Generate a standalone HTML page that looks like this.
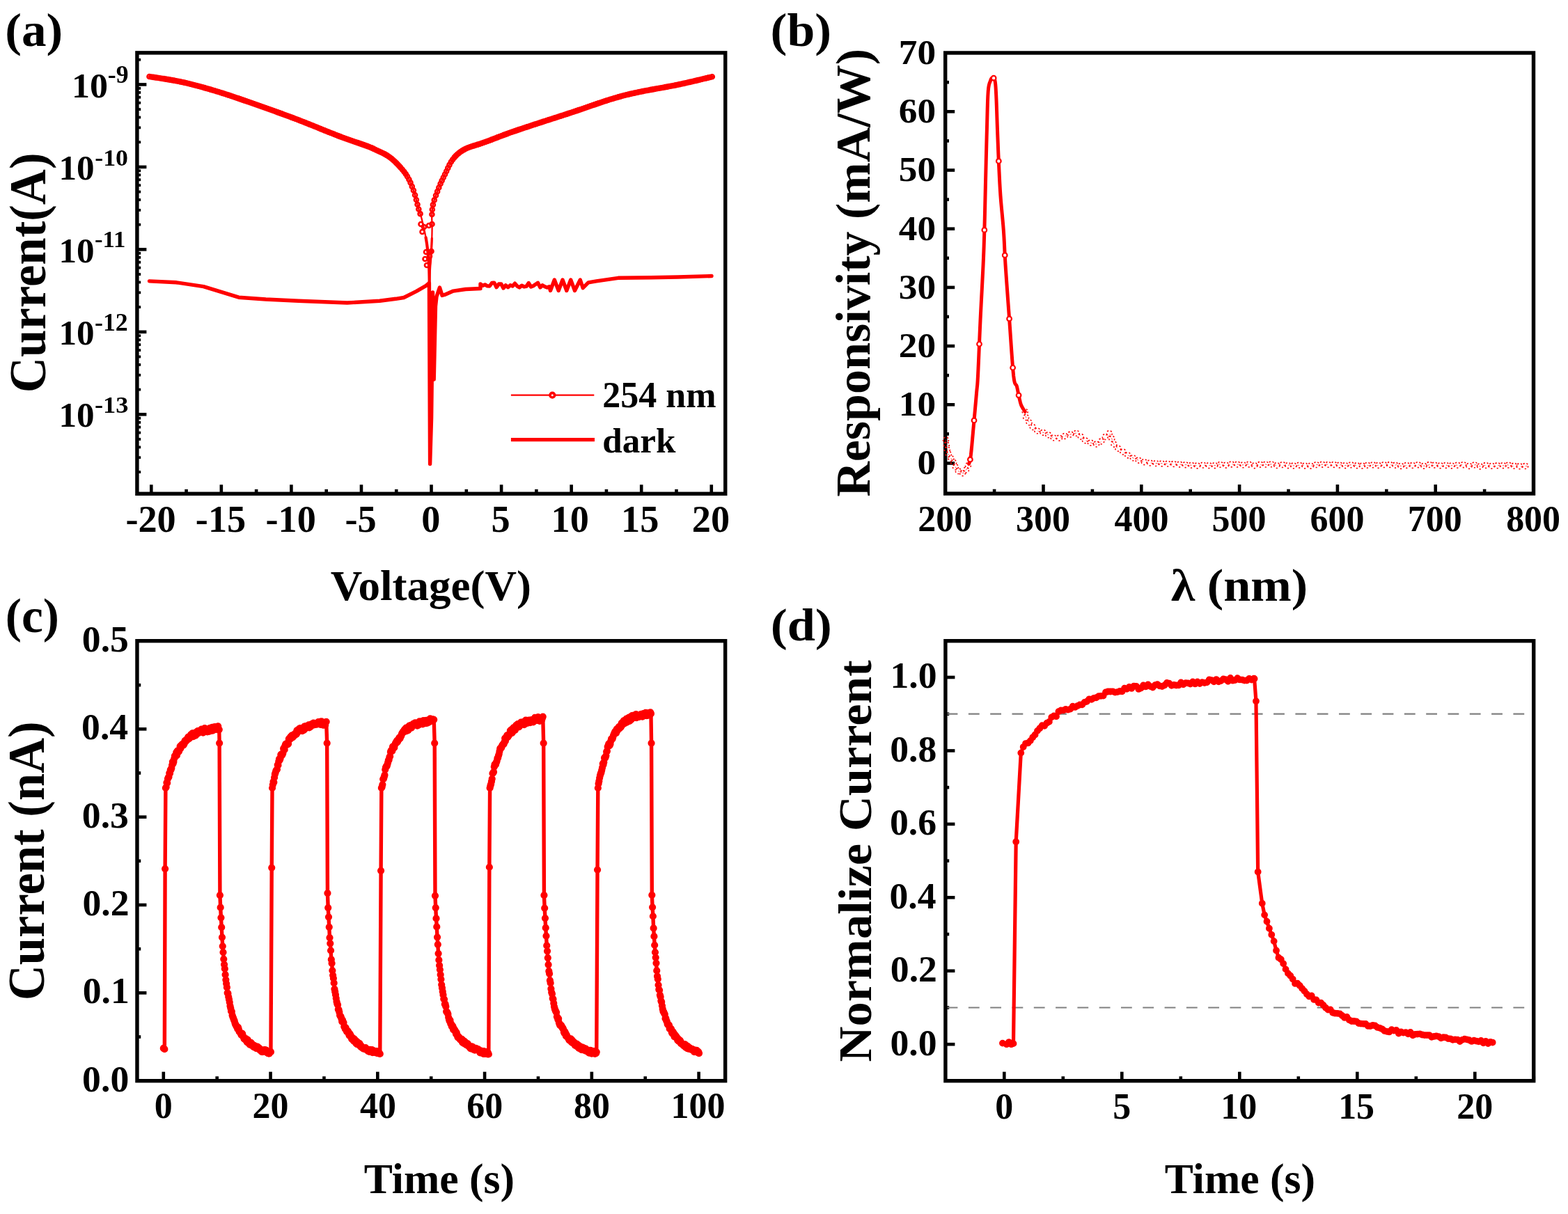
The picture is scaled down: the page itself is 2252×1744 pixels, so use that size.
<!DOCTYPE html>
<html><head><meta charset="utf-8"><title>Figure</title><style>html,body{margin:0;padding:0;background:#fff;width:2252px;height:1744px;overflow:hidden}</style></head><body>
<svg width="2252" height="1744" viewBox="0 0 2252 1744" style="display:block;font-family:'Liberation Serif','Times New Roman',serif;font-weight:bold">
<rect width="2252" height="1744" fill="#fff"/>
<line x1="217.29" y1="709.3" x2="217.29" y2="696.3" stroke="#000" stroke-width="4.6"/>
<line x1="317.85" y1="709.3" x2="317.85" y2="696.3" stroke="#000" stroke-width="4.6"/>
<line x1="418.41" y1="709.3" x2="418.41" y2="696.3" stroke="#000" stroke-width="4.6"/>
<line x1="518.97" y1="709.3" x2="518.97" y2="696.3" stroke="#000" stroke-width="4.6"/>
<line x1="619.53" y1="709.3" x2="619.53" y2="696.3" stroke="#000" stroke-width="4.6"/>
<line x1="720.09" y1="709.3" x2="720.09" y2="696.3" stroke="#000" stroke-width="4.6"/>
<line x1="820.65" y1="709.3" x2="820.65" y2="696.3" stroke="#000" stroke-width="4.6"/>
<line x1="921.21" y1="709.3" x2="921.21" y2="696.3" stroke="#000" stroke-width="4.6"/>
<line x1="1021.77" y1="709.3" x2="1021.77" y2="696.3" stroke="#000" stroke-width="4.6"/>
<line x1="267.57" y1="709.3" x2="267.57" y2="702.9" stroke="#000" stroke-width="4.6"/>
<line x1="368.13" y1="709.3" x2="368.13" y2="702.9" stroke="#000" stroke-width="4.6"/>
<line x1="468.69" y1="709.3" x2="468.69" y2="702.9" stroke="#000" stroke-width="4.6"/>
<line x1="569.25" y1="709.3" x2="569.25" y2="702.9" stroke="#000" stroke-width="4.6"/>
<line x1="669.81" y1="709.3" x2="669.81" y2="702.9" stroke="#000" stroke-width="4.6"/>
<line x1="770.37" y1="709.3" x2="770.37" y2="702.9" stroke="#000" stroke-width="4.6"/>
<line x1="870.93" y1="709.3" x2="870.93" y2="702.9" stroke="#000" stroke-width="4.6"/>
<line x1="971.49" y1="709.3" x2="971.49" y2="702.9" stroke="#000" stroke-width="4.6"/>
<line x1="196.9" y1="595.3" x2="210.4" y2="595.3" stroke="#000" stroke-width="4.6"/>
<line x1="196.9" y1="476.83" x2="210.4" y2="476.83" stroke="#000" stroke-width="4.6"/>
<line x1="196.9" y1="358.36" x2="210.4" y2="358.36" stroke="#000" stroke-width="4.6"/>
<line x1="196.9" y1="239.89" x2="210.4" y2="239.89" stroke="#000" stroke-width="4.6"/>
<line x1="196.9" y1="121.42" x2="210.4" y2="121.42" stroke="#000" stroke-width="4.6"/>
<line x1="196.9" y1="678.11" x2="202.2" y2="678.11" stroke="#000" stroke-width="3.8"/>
<line x1="196.9" y1="657.25" x2="202.2" y2="657.25" stroke="#000" stroke-width="3.8"/>
<line x1="196.9" y1="642.44" x2="202.2" y2="642.44" stroke="#000" stroke-width="3.8"/>
<line x1="196.9" y1="630.96" x2="202.2" y2="630.96" stroke="#000" stroke-width="3.8"/>
<line x1="196.9" y1="621.58" x2="202.2" y2="621.58" stroke="#000" stroke-width="3.8"/>
<line x1="196.9" y1="613.65" x2="202.2" y2="613.65" stroke="#000" stroke-width="3.8"/>
<line x1="196.9" y1="606.78" x2="202.2" y2="606.78" stroke="#000" stroke-width="3.8"/>
<line x1="196.9" y1="600.72" x2="202.2" y2="600.72" stroke="#000" stroke-width="3.8"/>
<line x1="196.9" y1="559.64" x2="202.2" y2="559.64" stroke="#000" stroke-width="3.8"/>
<line x1="196.9" y1="538.78" x2="202.2" y2="538.78" stroke="#000" stroke-width="3.8"/>
<line x1="196.9" y1="523.97" x2="202.2" y2="523.97" stroke="#000" stroke-width="3.8"/>
<line x1="196.9" y1="512.49" x2="202.2" y2="512.49" stroke="#000" stroke-width="3.8"/>
<line x1="196.9" y1="503.11" x2="202.2" y2="503.11" stroke="#000" stroke-width="3.8"/>
<line x1="196.9" y1="495.18" x2="202.2" y2="495.18" stroke="#000" stroke-width="3.8"/>
<line x1="196.9" y1="488.31" x2="202.2" y2="488.31" stroke="#000" stroke-width="3.8"/>
<line x1="196.9" y1="482.25" x2="202.2" y2="482.25" stroke="#000" stroke-width="3.8"/>
<line x1="196.9" y1="441.17" x2="202.2" y2="441.17" stroke="#000" stroke-width="3.8"/>
<line x1="196.9" y1="420.31" x2="202.2" y2="420.31" stroke="#000" stroke-width="3.8"/>
<line x1="196.9" y1="405.5" x2="202.2" y2="405.5" stroke="#000" stroke-width="3.8"/>
<line x1="196.9" y1="394.02" x2="202.2" y2="394.02" stroke="#000" stroke-width="3.8"/>
<line x1="196.9" y1="384.64" x2="202.2" y2="384.64" stroke="#000" stroke-width="3.8"/>
<line x1="196.9" y1="376.71" x2="202.2" y2="376.71" stroke="#000" stroke-width="3.8"/>
<line x1="196.9" y1="369.84" x2="202.2" y2="369.84" stroke="#000" stroke-width="3.8"/>
<line x1="196.9" y1="363.78" x2="202.2" y2="363.78" stroke="#000" stroke-width="3.8"/>
<line x1="196.9" y1="322.7" x2="202.2" y2="322.7" stroke="#000" stroke-width="3.8"/>
<line x1="196.9" y1="301.84" x2="202.2" y2="301.84" stroke="#000" stroke-width="3.8"/>
<line x1="196.9" y1="287.03" x2="202.2" y2="287.03" stroke="#000" stroke-width="3.8"/>
<line x1="196.9" y1="275.55" x2="202.2" y2="275.55" stroke="#000" stroke-width="3.8"/>
<line x1="196.9" y1="266.17" x2="202.2" y2="266.17" stroke="#000" stroke-width="3.8"/>
<line x1="196.9" y1="258.24" x2="202.2" y2="258.24" stroke="#000" stroke-width="3.8"/>
<line x1="196.9" y1="251.37" x2="202.2" y2="251.37" stroke="#000" stroke-width="3.8"/>
<line x1="196.9" y1="245.31" x2="202.2" y2="245.31" stroke="#000" stroke-width="3.8"/>
<line x1="196.9" y1="204.23" x2="202.2" y2="204.23" stroke="#000" stroke-width="3.8"/>
<line x1="196.9" y1="183.37" x2="202.2" y2="183.37" stroke="#000" stroke-width="3.8"/>
<line x1="196.9" y1="168.56" x2="202.2" y2="168.56" stroke="#000" stroke-width="3.8"/>
<line x1="196.9" y1="157.08" x2="202.2" y2="157.08" stroke="#000" stroke-width="3.8"/>
<line x1="196.9" y1="147.7" x2="202.2" y2="147.7" stroke="#000" stroke-width="3.8"/>
<line x1="196.9" y1="139.77" x2="202.2" y2="139.77" stroke="#000" stroke-width="3.8"/>
<line x1="196.9" y1="132.9" x2="202.2" y2="132.9" stroke="#000" stroke-width="3.8"/>
<line x1="196.9" y1="126.84" x2="202.2" y2="126.84" stroke="#000" stroke-width="3.8"/>
<line x1="196.9" y1="85.76" x2="202.2" y2="85.76" stroke="#000" stroke-width="3.8"/>
<rect x="196.9" y="75.85" width="844.85" height="633.45" fill="none" stroke="#000" stroke-width="5.4"/>
<text transform="translate(180.38 763.95) scale(0.5430 0.5481)" font-size="100">-20</text>
<text transform="translate(280.8 763.95) scale(0.5430 0.5522)" font-size="100">-15</text>
<text transform="translate(381.5 763.95) scale(0.5430 0.5481)" font-size="100">-10</text>
<text transform="translate(495.5 763.94) scale(0.5430 0.5564)" font-size="100">-5</text>
<text transform="translate(605.15 763.95) scale(0.5430 0.5481)" font-size="100">0</text>
<text transform="translate(705.58 763.94) scale(0.5430 0.5564)" font-size="100">5</text>
<text transform="translate(791.61 763.95) scale(0.5430 0.5481)" font-size="100">10</text>
<text transform="translate(892.04 763.95) scale(0.5430 0.5522)" font-size="100">15</text>
<text transform="translate(993.82 763.95) scale(0.5430 0.5481)" font-size="100">20</text>
<text transform="translate(84.41 613.49) scale(0.5114 0.5126)" font-size="100">10</text>
<text transform="translate(135.92 592.56) scale(0.3644 0.3433)" font-size="100">-13</text>
<text transform="translate(84.41 495.02) scale(0.5114 0.5126)" font-size="100">10</text>
<text transform="translate(135.95 475.3) scale(0.3586 0.3500)" font-size="100">-12</text>
<text transform="translate(84.41 376.55) scale(0.5114 0.5126)" font-size="100">10</text>
<text transform="translate(135.98 355.4) scale(0.3473 0.3318)" font-size="100">-11</text>
<text transform="translate(84.41 258.08) scale(0.5114 0.5126)" font-size="100">10</text>
<text transform="translate(136.24 238.25) scale(0.3587 0.3467)" font-size="100">-10</text>
<text transform="translate(102.94 139.61) scale(0.5205 0.5126)" font-size="100">10</text>
<text transform="translate(154.75 118.55) scale(0.3569 0.3507)" font-size="100">-9</text>
<text transform="translate(474.77 862.08) scale(0.6305 0.6119)" font-size="100">Voltage(V)</text>
<text transform="translate(65.46 564.24) rotate(-90) scale(0.7083 0.7403)" font-size="100">Current(A)</text>
<text transform="translate(7.2 65.93) scale(0.7111 0.6868)" font-size="100">(a)</text>
<line x1="733.9" y1="567.7" x2="853.3" y2="567.7" stroke="#f00" stroke-width="2.3"/>
<circle cx="793.3" cy="567.7" r="3.3" fill="#fff" stroke="#f00" stroke-width="3.6"/>
<line x1="733.9" y1="631.6" x2="854" y2="631.6" stroke="#f00" stroke-width="5.4"/>
<text transform="translate(865.22 585.16) scale(0.5208 0.5358)" font-size="100">254 nm</text>
<text transform="translate(865.25 649.6) scale(0.5122 0.4979)" font-size="100">dark</text>
<path d="M214.5 403.9 L253.4 405.8 L292.3 411.7 L342.9 427.2 L381.8 430 L428.5 432.3 L498.6 435 L545.3 432.3 L568.4 429.3 L580 427.5 L597.7 418.6 L612 410.4 L616.4 406.6 L617.6 666.5 L619.6 600 L620.8 500 L621.5 420 L623.2 545 L625.5 440 L627 426.1 L631.5 413 L635 424.4 L638.6 423.4 L651 418.1 L668.7 415.5 L690 414.5 L690 407.9 L693.3 410.35 L696.6 408.96 L699.9 410.83 L703.2 411.01 L706.5 406.52 L709.8 406.11 L713.1 412.7 L716.4 408.07 L719.7 407.87 L723 413.97 L726.3 409.76 L729.6 412.69 L732.9 409.81 L736.2 411.11 L739.5 407.2 L742.8 411.08 L746.1 412.94 L749.4 410.19 L752.7 411.93 L756 411.37 L759.3 406.51 L762.6 412.07 L765.9 410.73 L769.2 408.41 L772.5 406.25 L775.8 412.92 L779.1 409.78 L782.4 411.75 L785.7 413.03 L789 411.71 L790.5 417.5 L796.3 402 L802.2 417.5 L808 402 L813.8 417.5 L819.7 402 L825.5 417.5 L833.3 402 L837.2 413.6 L845 405.8 L856.6 403.9 L887.8 399.3 L934.5 398.8 L973.4 398 L1022 396.5" fill="none" stroke="#f00" stroke-width="5.4" stroke-linejoin="round" stroke-linecap="round" />
<path d="M214.5 110 L218.06 110.56 L222.75 111.27 L228.34 112.1 L234.58 113.05 L241.2 114.11 L247.98 115.26 L254.66 116.49 L261 117.8 L267.09 119.18 L273.22 120.65 L279.41 122.21 L285.67 123.86 L292.02 125.61 L298.48 127.44 L305.07 129.37 L311.8 131.4 L318.72 133.55 L325.82 135.84 L333.07 138.24 L340.42 140.72 L347.83 143.26 L355.26 145.84 L362.66 148.43 L370 151 L377.3 153.57 L384.6 156.16 L391.92 158.78 L399.23 161.42 L406.55 164.09 L413.87 166.79 L421.19 169.53 L428.5 172.3 L435.95 175.18 L443.59 178.21 L451.3 181.31 L458.98 184.43 L466.51 187.48 L473.76 190.4 L480.63 193.13 L487 195.6 L492.96 197.82 L498.66 199.88 L504.07 201.77 L509.17 203.53 L513.92 205.14 L518.29 206.63 L522.26 208.02 L525.8 209.3 L528.7 210.39 L530.91 211.23 L532.61 211.9 L533.99 212.48 L535.24 213.04 L536.53 213.67 L538.05 214.43 L540 215.4 L542.32 216.51 L544.83 217.65 L547.47 218.86 L550.21 220.16 L553 221.6 L555.81 223.19 L558.59 224.98 L561.3 227 L564.03 229.3 L566.86 231.86 L569.72 234.64 L572.57 237.57 L575.34 240.6 L577.97 243.67 L580.41 246.72 L582.6 249.7 L584.53 252.64 L586.25 255.59 L587.79 258.57 L589.19 261.57 L590.48 264.59 L591.69 267.64 L592.85 270.71 L594 273.8 L595.11 277.03 L596.14 280.45 L597.1 283.95 L597.99 287.44 L598.82 290.83 L599.6 294.02 L600.32 296.91 L601 299.4 L601.61 301.45 L602.14 303.12 L602.61 304.5 L603.03 305.67 L603.41 306.73 L603.78 307.74 L604.13 308.81 L604.5 310 L604.86 311.26 L605.18 312.47 L605.49 313.66 L605.78 314.85 L606.07 316.06 L606.36 317.3 L606.67 318.61 L607 320 L607.35 321.45 L607.71 322.95 L608.09 324.48 L608.47 326.06 L608.85 327.7 L609.24 329.4 L609.62 331.16 L610 333 L610.38 334.93 L610.77 336.95 L611.17 339.04 L611.56 341.19 L611.95 343.38 L612.32 345.59 L612.67 347.8 L613 350 L613.3 352.21 L613.59 354.45 L613.86 356.72 L614.11 359 L614.35 361.28 L614.58 363.55 L614.8 365.79 L615 368 L615.19 370.15 L615.37 372.23 L615.54 374.28 L615.69 376.32 L615.84 378.38 L615.97 380.5 L616.09 382.7 L616.2 385 L616.3 387.57 L616.39 390.44 L616.46 393.47 L616.53 396.51 L616.58 399.42 L616.63 402.05 L616.67 404.26 L616.7 405.9 L616.76 404.28 L616.85 402.12 L616.94 399.55 L617.05 396.7 L617.17 393.69 L617.3 390.65 L617.45 387.71 L617.6 385 L617.77 382.46 L617.96 379.94 L618.18 377.43 L618.39 374.94 L618.61 372.46 L618.83 369.98 L619.02 367.49 L619.2 365 L619.36 362.5 L619.51 360 L619.65 357.5 L619.78 355 L619.9 352.5 L620.01 350 L620.11 347.5 L620.2 345 L620.28 342.47 L620.36 339.88 L620.42 337.28 L620.48 334.69 L620.53 332.13 L620.56 329.65 L620.59 327.26 L620.6 325 L620.58 322.9 L620.52 320.96 L620.44 319.13 L620.35 317.36 L620.27 315.6 L620.23 313.82 L620.23 311.97 L620.3 310 L620.39 307.96 L620.48 305.92 L620.59 303.85 L620.74 301.72 L620.97 299.53 L621.28 297.25 L621.72 294.84 L622.3 292.3 L623.06 289.55 L623.99 286.57 L625.05 283.45 L626.19 280.24 L627.39 277.04 L628.6 273.89 L629.78 270.89 L630.9 268.1 L631.95 265.54 L632.97 263.16 L633.97 260.9 L634.98 258.72 L636.01 256.56 L637.08 254.37 L638.2 252.1 L639.4 249.7 L640.64 247.13 L641.89 244.41 L643.18 241.61 L644.51 238.79 L645.91 235.99 L647.4 233.29 L648.99 230.74 L650.7 228.4 L652.48 226.26 L654.3 224.25 L656.19 222.37 L658.18 220.59 L660.3 218.9 L662.59 217.28 L665.08 215.72 L667.8 214.2 L670.7 212.8 L673.74 211.57 L676.95 210.45 L680.33 209.38 L683.93 208.29 L687.75 207.12 L691.84 205.81 L696.2 204.3 L700.71 202.63 L705.27 200.89 L710.01 199.06 L715.02 197.12 L720.42 195.06 L726.31 192.86 L732.8 190.52 L740 188 L748.09 185.26 L757.04 182.29 L766.65 179.14 L776.73 175.86 L787.07 172.52 L797.47 169.16 L807.75 165.83 L817.7 162.6 L827.42 159.37 L837.14 156.04 L846.86 152.68 L856.59 149.34 L866.31 146.07 L876.04 142.94 L885.77 140 L895.5 137.3 L905.42 134.86 L915.61 132.63 L925.9 130.57 L936.15 128.65 L946.18 126.84 L955.84 125.1 L964.97 123.4 L973.4 121.7 L981.38 119.97 L989.16 118.23 L996.6 116.51 L1003.57 114.88 L1009.93 113.36 L1015.55 112.01 L1020.28 110.88 L1024 110" fill="none" stroke="#f00" stroke-width="2.3" stroke-linejoin="round" stroke-linecap="round" />
<path d="M611.56 341.19 L611.95 343.38 L612.32 345.59 L612.67 347.8 L613 350 L613.3 352.21 L613.59 354.45 L613.86 356.72 L614.11 359 L614.35 361.28 L614.58 363.55 L614.8 365.79 L615 368 L615.19 370.15 L615.37 372.23 L615.54 374.28 L615.69 376.32 L615.84 378.38 L615.97 380.5 L616.09 382.7 L616.2 385 L616.3 387.57 L616.39 390.44 L616.46 393.47 L616.53 396.51 L616.58 399.42 L616.63 402.05 L616.67 404.26 L616.7 405.9" fill="none" stroke="#f00" stroke-width="4.2" stroke-linejoin="round" stroke-linecap="round" />
<path d="M616.7 405.9 L616.76 404.28 L616.85 402.12 L616.94 399.55 L617.05 396.7 L617.17 393.69 L617.3 390.65 L617.45 387.71 L617.6 385 L617.77 382.46 L617.96 379.94 L618.18 377.43 L618.39 374.94 L618.61 372.46 L618.83 369.98 L619.02 367.49 L619.2 365 L619.36 362.5 L619.51 360 L619.65 357.5 L619.78 355 L619.9 352.5 L620.01 350 L620.11 347.5 L620.2 345 L620.28 342.47" fill="none" stroke="#f00" stroke-width="3.2" stroke-linejoin="round" stroke-linecap="round" />
<g fill="none" stroke="#f00" stroke-width="2.6"><circle cx="214.5" cy="110" r="3.0"/><circle cx="217.46" cy="110.47" r="3.0"/><circle cx="220.43" cy="110.92" r="3.0"/><circle cx="223.4" cy="111.36" r="3.0"/><circle cx="226.36" cy="111.8" r="3.0"/><circle cx="229.33" cy="112.25" r="3.0"/><circle cx="232.3" cy="112.7" r="3.0"/><circle cx="235.26" cy="113.16" r="3.0"/><circle cx="238.22" cy="113.63" r="3.0"/><circle cx="241.19" cy="114.1" r="3.0"/><circle cx="244.14" cy="114.61" r="3.0"/><circle cx="247.1" cy="115.11" r="3.0"/><circle cx="250.05" cy="115.64" r="3.0"/><circle cx="253" cy="116.19" r="3.0"/><circle cx="255.95" cy="116.76" r="3.0"/><circle cx="258.89" cy="117.36" r="3.0"/><circle cx="261.82" cy="117.99" r="3.0"/><circle cx="264.75" cy="118.65" r="3.0"/><circle cx="267.67" cy="119.32" r="3.0"/><circle cx="270.59" cy="120.02" r="3.0"/><circle cx="273.51" cy="120.72" r="3.0"/><circle cx="276.41" cy="121.46" r="3.0"/><circle cx="279.32" cy="122.19" r="3.0"/><circle cx="282.22" cy="122.95" r="3.0"/><circle cx="285.12" cy="123.72" r="3.0"/><circle cx="288.02" cy="124.51" r="3.0"/><circle cx="290.91" cy="125.3" r="3.0"/><circle cx="293.8" cy="126.11" r="3.0"/><circle cx="296.69" cy="126.93" r="3.0"/><circle cx="299.57" cy="127.76" r="3.0"/><circle cx="302.45" cy="128.61" r="3.0"/><circle cx="305.33" cy="129.45" r="3.0"/><circle cx="308.2" cy="130.32" r="3.0"/><circle cx="311.07" cy="131.18" r="3.0"/><circle cx="313.94" cy="132.06" r="3.0"/><circle cx="316.8" cy="132.96" r="3.0"/><circle cx="319.66" cy="133.86" r="3.0"/><circle cx="322.52" cy="134.78" r="3.0"/><circle cx="325.38" cy="135.69" r="3.0"/><circle cx="328.23" cy="136.63" r="3.0"/><circle cx="331.07" cy="137.58" r="3.0"/><circle cx="333.92" cy="138.52" r="3.0"/><circle cx="336.76" cy="139.48" r="3.0"/><circle cx="339.6" cy="140.44" r="3.0"/><circle cx="342.44" cy="141.41" r="3.0"/><circle cx="345.28" cy="142.39" r="3.0"/><circle cx="348.12" cy="143.36" r="3.0"/><circle cx="350.95" cy="144.35" r="3.0"/><circle cx="353.79" cy="145.33" r="3.0"/><circle cx="356.62" cy="146.32" r="3.0"/><circle cx="359.45" cy="147.31" r="3.0"/><circle cx="362.28" cy="148.3" r="3.0"/><circle cx="365.11" cy="149.29" r="3.0"/><circle cx="367.95" cy="150.28" r="3.0"/><circle cx="370.78" cy="151.27" r="3.0"/><circle cx="373.61" cy="152.27" r="3.0"/><circle cx="376.44" cy="153.26" r="3.0"/><circle cx="379.27" cy="154.27" r="3.0"/><circle cx="382.09" cy="155.27" r="3.0"/><circle cx="384.92" cy="156.27" r="3.0"/><circle cx="387.74" cy="157.28" r="3.0"/><circle cx="390.57" cy="158.29" r="3.0"/><circle cx="393.39" cy="159.31" r="3.0"/><circle cx="396.21" cy="160.33" r="3.0"/><circle cx="399.03" cy="161.35" r="3.0"/><circle cx="401.85" cy="162.38" r="3.0"/><circle cx="404.67" cy="163.41" r="3.0"/><circle cx="407.49" cy="164.44" r="3.0"/><circle cx="410.3" cy="165.48" r="3.0"/><circle cx="413.12" cy="166.52" r="3.0"/><circle cx="415.93" cy="167.56" r="3.0"/><circle cx="418.74" cy="168.61" r="3.0"/><circle cx="421.55" cy="169.67" r="3.0"/><circle cx="424.35" cy="170.73" r="3.0"/><circle cx="427.16" cy="171.79" r="3.0"/><circle cx="429.96" cy="172.86" r="3.0"/><circle cx="432.76" cy="173.95" r="3.0"/><circle cx="435.55" cy="175.03" r="3.0"/><circle cx="438.34" cy="176.13" r="3.0"/><circle cx="441.13" cy="177.24" r="3.0"/><circle cx="443.92" cy="178.34" r="3.0"/><circle cx="446.71" cy="179.46" r="3.0"/><circle cx="449.49" cy="180.58" r="3.0"/><circle cx="452.27" cy="181.71" r="3.0"/><circle cx="455.05" cy="182.83" r="3.0"/><circle cx="457.83" cy="183.96" r="3.0"/><circle cx="460.61" cy="185.09" r="3.0"/><circle cx="463.39" cy="186.21" r="3.0"/><circle cx="466.17" cy="187.34" r="3.0"/><circle cx="468.95" cy="188.46" r="3.0"/><circle cx="471.74" cy="189.59" r="3.0"/><circle cx="474.52" cy="190.71" r="3.0"/><circle cx="477.31" cy="191.81" r="3.0"/><circle cx="480.1" cy="192.92" r="3.0"/><circle cx="482.89" cy="194.01" r="3.0"/><circle cx="485.69" cy="195.09" r="3.0"/><circle cx="488.49" cy="196.16" r="3.0"/><circle cx="491.3" cy="197.21" r="3.0"/><circle cx="494.12" cy="198.24" r="3.0"/><circle cx="496.94" cy="199.26" r="3.0"/><circle cx="499.77" cy="200.27" r="3.0"/><circle cx="502.6" cy="201.26" r="3.0"/><circle cx="505.43" cy="202.24" r="3.0"/><circle cx="508.27" cy="203.22" r="3.0"/><circle cx="511.11" cy="204.19" r="3.0"/><circle cx="513.95" cy="205.15" r="3.0"/><circle cx="516.79" cy="206.12" r="3.0"/><circle cx="519.63" cy="207.1" r="3.0"/><circle cx="522.46" cy="208.09" r="3.0"/><circle cx="525.28" cy="209.11" r="3.0"/><circle cx="528.09" cy="210.16" r="3.0"/><circle cx="530.89" cy="211.22" r="3.0"/><circle cx="533.67" cy="212.35" r="3.0"/><circle cx="536.4" cy="213.6" r="3.0"/><circle cx="539.08" cy="214.94" r="3.0"/><circle cx="541.78" cy="216.25" r="3.0"/><circle cx="544.51" cy="217.51" r="3.0"/><circle cx="547.24" cy="218.75" r="3.0"/><circle cx="549.95" cy="220.04" r="3.0"/><circle cx="552.62" cy="221.4" r="3.0"/><circle cx="555.24" cy="222.87" r="3.0"/><circle cx="557.78" cy="224.46" r="3.0"/><circle cx="560.22" cy="226.2" r="3.0"/><circle cx="562.57" cy="228.07" r="3.0"/><circle cx="564.84" cy="230.03" r="3.0"/><circle cx="567.05" cy="232.05" r="3.0"/><circle cx="569.21" cy="234.14" r="3.0"/><circle cx="571.31" cy="236.27" r="3.0"/><circle cx="573.38" cy="238.45" r="3.0"/><circle cx="575.4" cy="240.67" r="3.0"/><circle cx="578" cy="243.7" r="3.0"/><circle cx="580.49" cy="246.83" r="3.0"/><circle cx="582.84" cy="250.07" r="3.0"/><circle cx="585" cy="253.44" r="3.0"/><circle cx="587.4" cy="257.82" r="3.0"/><circle cx="589.52" cy="262.35" r="3.0"/><circle cx="591.79" cy="267.9" r="3.0"/><circle cx="593.9" cy="273.52" r="3.0"/><circle cx="596.06" cy="280.17" r="3.0"/><circle cx="597.86" cy="286.94" r="3.0"/><circle cx="599.53" cy="293.74" r="3.0"/><circle cx="601.33" cy="300.5" r="3.0"/><circle cx="603.56" cy="307.13" r="3.0"/><circle cx="620.39" cy="308.03" r="3.0"/><circle cx="620.81" cy="301.04" r="3.0"/><circle cx="621.88" cy="294.13" r="3.0"/><circle cx="623.74" cy="287.38" r="3.0"/><circle cx="626.01" cy="280.76" r="3.0"/><circle cx="628.12" cy="275.14" r="3.0"/><circle cx="630.32" cy="269.56" r="3.0"/><circle cx="632.6" cy="264.01" r="3.0"/><circle cx="634.64" cy="259.45" r="3.0"/><circle cx="636.8" cy="254.94" r="3.0"/><circle cx="639.02" cy="250.46" r="3.0"/><circle cx="641.18" cy="245.95" r="3.0"/><circle cx="643.27" cy="241.41" r="3.0"/><circle cx="645.46" cy="236.91" r="3.0"/><circle cx="647.87" cy="232.54" r="3.0"/><circle cx="650.1" cy="229.22" r="3.0"/><circle cx="652.62" cy="226.11" r="3.0"/><circle cx="654.65" cy="223.9" r="3.0"/><circle cx="656.81" cy="221.82" r="3.0"/><circle cx="659.08" cy="219.87" r="3.0"/><circle cx="661.48" cy="218.07" r="3.0"/><circle cx="663.98" cy="216.41" r="3.0"/><circle cx="666.57" cy="214.89" r="3.0"/><circle cx="669.23" cy="213.51" r="3.0"/><circle cx="671.97" cy="212.29" r="3.0"/><circle cx="674.77" cy="211.21" r="3.0"/><circle cx="677.61" cy="210.24" r="3.0"/><circle cx="680.47" cy="209.34" r="3.0"/><circle cx="683.34" cy="208.47" r="3.0"/><circle cx="686.21" cy="207.6" r="3.0"/><circle cx="689.07" cy="206.7" r="3.0"/><circle cx="691.93" cy="205.78" r="3.0"/><circle cx="694.76" cy="204.8" r="3.0"/><circle cx="697.59" cy="203.79" r="3.0"/><circle cx="700.4" cy="202.74" r="3.0"/><circle cx="703.2" cy="201.68" r="3.0"/><circle cx="706" cy="200.61" r="3.0"/><circle cx="708.8" cy="199.52" r="3.0"/><circle cx="711.6" cy="198.44" r="3.0"/><circle cx="714.4" cy="197.36" r="3.0"/><circle cx="717.2" cy="196.29" r="3.0"/><circle cx="720" cy="195.22" r="3.0"/><circle cx="722.81" cy="194.17" r="3.0"/><circle cx="725.62" cy="193.12" r="3.0"/><circle cx="728.44" cy="192.09" r="3.0"/><circle cx="731.26" cy="191.07" r="3.0"/><circle cx="734.09" cy="190.07" r="3.0"/><circle cx="736.92" cy="189.08" r="3.0"/><circle cx="739.75" cy="188.09" r="3.0"/><circle cx="742.59" cy="187.12" r="3.0"/><circle cx="745.44" cy="186.16" r="3.0"/><circle cx="748.28" cy="185.2" r="3.0"/><circle cx="751.12" cy="184.25" r="3.0"/><circle cx="753.97" cy="183.31" r="3.0"/><circle cx="756.82" cy="182.36" r="3.0"/><circle cx="759.67" cy="181.43" r="3.0"/><circle cx="762.52" cy="180.49" r="3.0"/><circle cx="765.37" cy="179.56" r="3.0"/><circle cx="768.22" cy="178.63" r="3.0"/><circle cx="771.08" cy="177.7" r="3.0"/><circle cx="773.93" cy="176.77" r="3.0"/><circle cx="776.78" cy="175.84" r="3.0"/><circle cx="779.64" cy="174.92" r="3.0"/><circle cx="782.49" cy="174" r="3.0"/><circle cx="785.35" cy="173.07" r="3.0"/><circle cx="788.2" cy="172.15" r="3.0"/><circle cx="791.05" cy="171.23" r="3.0"/><circle cx="793.91" cy="170.31" r="3.0"/><circle cx="796.76" cy="169.39" r="3.0"/><circle cx="799.62" cy="168.46" r="3.0"/><circle cx="802.47" cy="167.54" r="3.0"/><circle cx="805.33" cy="166.62" r="3.0"/><circle cx="808.18" cy="165.69" r="3.0"/><circle cx="811.04" cy="164.77" r="3.0"/><circle cx="813.89" cy="163.84" r="3.0"/><circle cx="816.74" cy="162.91" r="3.0"/><circle cx="819.59" cy="161.97" r="3.0"/><circle cx="822.44" cy="161.02" r="3.0"/><circle cx="825.28" cy="160.08" r="3.0"/><circle cx="828.13" cy="159.12" r="3.0"/><circle cx="830.97" cy="158.15" r="3.0"/><circle cx="833.81" cy="157.18" r="3.0"/><circle cx="836.64" cy="156.21" r="3.0"/><circle cx="839.48" cy="155.23" r="3.0"/><circle cx="842.31" cy="154.25" r="3.0"/><circle cx="845.15" cy="153.27" r="3.0"/><circle cx="847.99" cy="152.29" r="3.0"/><circle cx="850.82" cy="151.32" r="3.0"/><circle cx="853.66" cy="150.34" r="3.0"/><circle cx="856.5" cy="149.37" r="3.0"/><circle cx="859.34" cy="148.41" r="3.0"/><circle cx="862.19" cy="147.46" r="3.0"/><circle cx="865.03" cy="146.5" r="3.0"/><circle cx="867.88" cy="145.57" r="3.0"/><circle cx="870.74" cy="144.65" r="3.0"/><circle cx="873.59" cy="143.73" r="3.0"/><circle cx="876.45" cy="142.82" r="3.0"/><circle cx="879.32" cy="141.95" r="3.0"/><circle cx="882.19" cy="141.08" r="3.0"/><circle cx="885.06" cy="140.21" r="3.0"/><circle cx="887.95" cy="139.39" r="3.0"/><circle cx="890.84" cy="138.59" r="3.0"/><circle cx="893.73" cy="137.79" r="3.0"/><circle cx="896.63" cy="137.02" r="3.0"/><circle cx="899.54" cy="136.3" r="3.0"/><circle cx="902.46" cy="135.59" r="3.0"/><circle cx="905.37" cy="134.87" r="3.0"/><circle cx="908.3" cy="134.23" r="3.0"/><circle cx="911.23" cy="133.59" r="3.0"/><circle cx="914.16" cy="132.94" r="3.0"/><circle cx="917.1" cy="132.33" r="3.0"/><circle cx="920.04" cy="131.74" r="3.0"/><circle cx="922.98" cy="131.15" r="3.0"/><circle cx="925.92" cy="130.56" r="3.0"/><circle cx="928.87" cy="130.01" r="3.0"/><circle cx="931.82" cy="129.46" r="3.0"/><circle cx="934.77" cy="128.91" r="3.0"/><circle cx="937.72" cy="128.37" r="3.0"/><circle cx="940.67" cy="127.83" r="3.0"/><circle cx="943.62" cy="127.3" r="3.0"/><circle cx="946.58" cy="126.77" r="3.0"/><circle cx="949.53" cy="126.24" r="3.0"/><circle cx="952.48" cy="125.7" r="3.0"/><circle cx="955.43" cy="125.17" r="3.0"/><circle cx="958.38" cy="124.62" r="3.0"/><circle cx="961.33" cy="124.07" r="3.0"/><circle cx="964.28" cy="123.52" r="3.0"/><circle cx="967.23" cy="122.94" r="3.0"/><circle cx="970.17" cy="122.35" r="3.0"/><circle cx="973.11" cy="121.76" r="3.0"/><circle cx="976.04" cy="121.13" r="3.0"/><circle cx="978.97" cy="120.49" r="3.0"/><circle cx="981.9" cy="119.85" r="3.0"/><circle cx="984.83" cy="119.2" r="3.0"/><circle cx="987.76" cy="118.54" r="3.0"/><circle cx="990.68" cy="117.87" r="3.0"/><circle cx="993.61" cy="117.2" r="3.0"/><circle cx="996.53" cy="116.53" r="3.0"/><circle cx="999.45" cy="115.84" r="3.0"/><circle cx="1002.37" cy="115.16" r="3.0"/><circle cx="1005.29" cy="114.46" r="3.0"/><circle cx="1008.21" cy="113.77" r="3.0"/><circle cx="1011.13" cy="113.07" r="3.0"/><circle cx="1014.04" cy="112.37" r="3.0"/><circle cx="1016.96" cy="111.67" r="3.0"/><circle cx="1019.88" cy="110.97" r="3.0"/><circle cx="1022.8" cy="110.28" r="3.0"/><circle cx="604.5" cy="322" r="3.0"/><circle cx="609" cy="326" r="3.0"/><circle cx="616" cy="324" r="3.0"/><circle cx="620.5" cy="322" r="3.0"/><circle cx="606.5" cy="333" r="3.0"/><circle cx="612" cy="362" r="3.0"/><circle cx="619.5" cy="361" r="3.0"/><circle cx="617" cy="368" r="3.0"/><circle cx="610.5" cy="372" r="3.0"/><circle cx="613" cy="381" r="3.0"/></g>
<line x1="1498.5" y1="709.1" x2="1498.5" y2="696.1" stroke="#000" stroke-width="4.6"/>
<line x1="1639.3" y1="709.1" x2="1639.3" y2="696.1" stroke="#000" stroke-width="4.6"/>
<line x1="1780.1" y1="709.1" x2="1780.1" y2="696.1" stroke="#000" stroke-width="4.6"/>
<line x1="1920.9" y1="709.1" x2="1920.9" y2="696.1" stroke="#000" stroke-width="4.6"/>
<line x1="2061.7" y1="709.1" x2="2061.7" y2="696.1" stroke="#000" stroke-width="4.6"/>
<line x1="1428.1" y1="709.1" x2="1428.1" y2="702.7" stroke="#000" stroke-width="4.6"/>
<line x1="1568.9" y1="709.1" x2="1568.9" y2="702.7" stroke="#000" stroke-width="4.6"/>
<line x1="1709.7" y1="709.1" x2="1709.7" y2="702.7" stroke="#000" stroke-width="4.6"/>
<line x1="1850.5" y1="709.1" x2="1850.5" y2="702.7" stroke="#000" stroke-width="4.6"/>
<line x1="1991.3" y1="709.1" x2="1991.3" y2="702.7" stroke="#000" stroke-width="4.6"/>
<line x1="2132.1" y1="709.1" x2="2132.1" y2="702.7" stroke="#000" stroke-width="4.6"/>
<line x1="1357.7" y1="665.5" x2="1371.2" y2="665.5" stroke="#000" stroke-width="4.6"/>
<line x1="1357.7" y1="581.3" x2="1371.2" y2="581.3" stroke="#000" stroke-width="4.6"/>
<line x1="1357.7" y1="497.1" x2="1371.2" y2="497.1" stroke="#000" stroke-width="4.6"/>
<line x1="1357.7" y1="412.9" x2="1371.2" y2="412.9" stroke="#000" stroke-width="4.6"/>
<line x1="1357.7" y1="328.7" x2="1371.2" y2="328.7" stroke="#000" stroke-width="4.6"/>
<line x1="1357.7" y1="244.5" x2="1371.2" y2="244.5" stroke="#000" stroke-width="4.6"/>
<line x1="1357.7" y1="160.3" x2="1371.2" y2="160.3" stroke="#000" stroke-width="4.6"/>
<line x1="1357.7" y1="623.4" x2="1363" y2="623.4" stroke="#000" stroke-width="4.6"/>
<line x1="1357.7" y1="539.2" x2="1363" y2="539.2" stroke="#000" stroke-width="4.6"/>
<line x1="1357.7" y1="455" x2="1363" y2="455" stroke="#000" stroke-width="4.6"/>
<line x1="1357.7" y1="370.8" x2="1363" y2="370.8" stroke="#000" stroke-width="4.6"/>
<line x1="1357.7" y1="286.6" x2="1363" y2="286.6" stroke="#000" stroke-width="4.6"/>
<line x1="1357.7" y1="202.4" x2="1363" y2="202.4" stroke="#000" stroke-width="4.6"/>
<line x1="1357.7" y1="118.2" x2="1363" y2="118.2" stroke="#000" stroke-width="4.6"/>
<rect x="1357.7" y="75.95" width="844.8" height="633.15" fill="none" stroke="#000" stroke-width="5.4"/>
<text transform="translate(1318.2 763.36) scale(0.5200 0.5378)" font-size="100">200</text>
<text transform="translate(1459 763.36) scale(0.5200 0.5378)" font-size="100">300</text>
<text transform="translate(1600.45 763.36) scale(0.5200 0.5378)" font-size="100">400</text>
<text transform="translate(1740.6 763.36) scale(0.5200 0.5378)" font-size="100">500</text>
<text transform="translate(1881.53 763.36) scale(0.5200 0.5378)" font-size="100">600</text>
<text transform="translate(2021.81 763.36) scale(0.5200 0.5378)" font-size="100">700</text>
<text transform="translate(2163.13 763.36) scale(0.5200 0.5378)" font-size="100">800</text>
<text transform="translate(1317.48 681.38) scale(0.5330 0.5156)" font-size="100">0</text>
<text transform="translate(1290.83 597.18) scale(0.5330 0.5156)" font-size="100">10</text>
<text transform="translate(1290.83 512.98) scale(0.5330 0.5156)" font-size="100">20</text>
<text transform="translate(1290.83 428.78) scale(0.5330 0.5156)" font-size="100">30</text>
<text transform="translate(1290.83 344.58) scale(0.5330 0.5156)" font-size="100">40</text>
<text transform="translate(1290.83 260.38) scale(0.5330 0.5156)" font-size="100">50</text>
<text transform="translate(1290.83 176.18) scale(0.5330 0.5156)" font-size="100">60</text>
<text transform="translate(1290.83 91.98) scale(0.5330 0.5156)" font-size="100">70</text>
<text transform="translate(1681.8 862.8) scale(0.7027 0.6511)" font-size="100">λ (nm)</text>
<text transform="translate(1248.7 713.85) rotate(-90) scale(0.7005 0.7038)" font-size="100">Responsivity (mA/W)</text>
<text transform="translate(1106.58 65.93) scale(0.7163 0.6868)" font-size="100">(b)</text>
<path d="M1391.6 666.4 L1391.88 665.43 L1392.26 664.44 L1392.71 663.09 L1393.23 661.06 L1393.8 658.01 L1394.4 653.6 L1395.07 647.37 L1395.84 639.48 L1396.65 630.57 L1397.47 621.28 L1398.27 612.24 L1399 604.1 L1399.68 596.66 L1400.34 589.37 L1400.97 582.34 L1401.56 575.67 L1402.11 569.46 L1402.6 563.8 L1403 559.53 L1403.3 556.73 L1403.56 554.38 L1403.81 551.49 L1404.11 547.03 L1404.5 540 L1404.98 529.92 L1405.53 517.5 L1406.11 503.52 L1406.73 488.76 L1407.36 474 L1408 460 L1408.68 446.31 L1409.41 432.21 L1410.16 418.11 L1410.88 404.41 L1411.54 391.5 L1412.1 379.8 L1412.53 369.79 L1412.87 361.26 L1413.15 353.52 L1413.39 345.92 L1413.63 337.77 L1413.9 328.4 L1414.19 317.7 L1414.47 306.19 L1414.75 294.12 L1415.03 281.79 L1415.31 269.46 L1415.6 257.4 L1415.89 245.38 L1416.19 233.14 L1416.49 220.9 L1416.8 208.88 L1417.1 197.31 L1417.4 186.4 L1417.68 175.85 L1417.94 165.43 L1418.19 155.46 L1418.47 146.24 L1418.8 138.12 L1419.2 131.4 L1419.69 126.34 L1420.27 122.74 L1420.89 120.23 L1421.53 118.43 L1422.14 116.98 L1422.7 115.5 L1423.19 114.12 L1423.63 113.16 L1424.05 112.54 L1424.47 112.19 L1424.91 112.03 L1425.4 112 L1425.96 111.97 L1426.57 111.99 L1427.21 112.2 L1427.83 112.76 L1428.41 113.81 L1428.9 115.5 L1429.3 117.69 L1429.63 120.23 L1429.91 123.27 L1430.16 126.94 L1430.42 131.41 L1430.7 136.8 L1431 143.49 L1431.3 151.43 L1431.6 160.16 L1431.9 169.2 L1432.2 178.11 L1432.5 186.4 L1432.79 194.04 L1433.07 201.39 L1433.35 208.59 L1433.64 215.8 L1433.95 223.15 L1434.3 230.8 L1434.67 238.76 L1435.04 246.91 L1435.43 255.21 L1435.86 263.61 L1436.35 272.06 L1436.9 280.5 L1437.56 289.01 L1438.33 297.64 L1439.15 306.31 L1439.97 314.96 L1440.74 323.52 L1441.4 331.9 L1441.91 339.74 L1442.3 347 L1442.63 354.18 L1442.98 361.72 L1443.42 370.1 L1444 379.8 L1444.75 391.04 L1445.63 403.48 L1446.58 416.77 L1447.59 430.53 L1448.6 444.4 L1449.6 458 L1450.61 472.23 L1451.65 487.54 L1452.71 502.97 L1453.76 517.51 L1454.76 530.18 L1455.7 540 L1456.58 546.37 L1457.41 549.96 L1458.21 551.67 L1458.96 552.43 L1459.66 553.14 L1460.3 554.7 L1460.85 556.92 L1461.3 559.04 L1461.71 561.11 L1462.1 563.17 L1462.51 565.28 L1463 567.5 L1463.54 569.89 L1464.09 572.43 L1464.67 575.02 L1465.3 577.57 L1465.97 579.96 L1466.7 582.1 L1467.58 584.05 L1468.6 585.91 L1469.68 587.61 L1470.71 589.11 L1471.58 590.36 L1472.2 591.3" fill="none" stroke="#f00" stroke-width="5.0" stroke-linejoin="round" stroke-linecap="round" />
<path d="M1358.5 632 L1358.75 634 L1359.05 636.8 L1359.43 640.09 L1359.93 643.59 L1360.57 646.99 L1361.4 650 L1362.5 652.66 L1363.87 655.22 L1365.39 657.69 L1366.95 660.06 L1368.42 662.33 L1369.7 664.5 L1370.72 666.62 L1371.57 668.7 L1372.34 670.68 L1373.13 672.5 L1374.01 674.13 L1375.1 675.5 L1376.44 676.73 L1377.96 677.89 L1379.58 678.84 L1381.23 679.46 L1382.83 679.62 L1384.3 679.2 L1385.71 677.87 L1387.14 675.68 L1388.53 673.03 L1389.78 670.33 L1390.83 667.98 L1391.6 666.4" fill="none" stroke="#f00" stroke-width="1.0" stroke-linejoin="round" stroke-linecap="round" stroke-dasharray="2 5" opacity="0.7"/>
<path d="M1472.2 591.3 L1472.27 592.2 L1472.26 593.38 L1472.3 594.81 L1472.52 596.47 L1473.04 598.34 L1474 600.4 L1475.47 602.86 L1477.38 605.79 L1479.59 608.93 L1481.99 612.02 L1484.43 614.79 L1486.8 617 L1489.14 618.53 L1491.56 619.56 L1494.03 620.28 L1496.53 620.87 L1499.03 621.52 L1501.5 622.4 L1503.95 623.63 L1506.4 625.1 L1508.86 626.62 L1511.31 628.01 L1513.76 629.1 L1516.2 629.7 L1518.62 629.72 L1521 629.28 L1523.39 628.53 L1525.8 627.63 L1528.26 626.74 L1530.8 626 L1533.53 625.25 L1536.43 624.32 L1539.39 623.39 L1542.28 622.65 L1544.96 622.26 L1547.3 622.4 L1549.14 623.23 L1550.54 624.62 L1551.73 626.37 L1552.95 628.27 L1554.43 630.08 L1556.4 631.6 L1559.03 632.98 L1562.19 634.41 L1565.59 635.77 L1569 636.92 L1572.16 637.71 L1574.8 638 L1576.87 637.71 L1578.56 636.92 L1579.99 635.77 L1581.29 634.41 L1582.58 632.98 L1584 631.6 L1585.53 629.93 L1587.07 627.79 L1588.61 625.56 L1590.13 623.66 L1591.59 622.47 L1593 622.4 L1594.28 623.76 L1595.45 626.3 L1596.58 629.56 L1597.73 633.07 L1598.98 636.37 L1600.4 639 L1601.98 640.94 L1603.67 642.56 L1605.45 643.96 L1607.33 645.27 L1609.32 646.58 L1611.4 648 L1613.54 649.54 L1615.73 651.12 L1618.01 652.71 L1620.45 654.27 L1623.1 655.77 L1626 657.2 L1629.07 658.59 L1632.24 659.97 L1635.63 661.31 L1639.31 662.54 L1643.4 663.62 L1648 664.5 L1653.26 665.12 L1659.12 665.51 L1665.39 665.74 L1671.86 665.91 L1678.33 666.11 L1684.6 666.4 L1691.12 666.82 L1698.16 667.31 L1705.19 667.82 L1711.71 668.3 L1717.22 668.71 L1721.2 669 L1725.2 667.84 L1729.2 668.16 L1733.2 668.31 L1737.2 668.7 L1741.2 668.19 L1745.2 668.68 L1749.2 666.37 L1753.2 667.51 L1757.2 668.77 L1761.2 668.02 L1765.2 668.68 L1769.2 666.65 L1773.2 667.59 L1777.2 667.02 L1781.2 667.81 L1785.2 667.9 L1789.2 666.45 L1793.2 666.99 L1797.2 667.17 L1801.2 668.84 L1805.2 668.46 L1809.2 666.89 L1813.2 668.56 L1817.2 666.86 L1821.2 668.12 L1825.2 666.86 L1829.2 666.55 L1833.2 668.82 L1837.2 667.11 L1841.2 667.14 L1845.2 669.15 L1849.2 668.87 L1853.2 667.37 L1857.2 669.13 L1861.2 668.04 L1865.2 668.42 L1869.2 667.2 L1873.2 669.13 L1877.2 668.49 L1881.2 669.22 L1885.2 669.04 L1889.2 667.51 L1893.2 667.68 L1897.2 667.19 L1901.2 667.15 L1905.2 666.95 L1909.2 667.57 L1913.2 668.37 L1917.2 666.83 L1921.2 668.59 L1925.2 667.72 L1929.2 667.66 L1933.2 668.99 L1937.2 668.13 L1941.2 667.71 L1945.2 668.15 L1949.2 668.75 L1953.2 667.08 L1957.2 669.48 L1961.2 667.01 L1965.2 668.92 L1969.2 669.18 L1973.2 667.04 L1977.2 669.05 L1981.2 667.97 L1985.2 668.53 L1989.2 667.06 L1993.2 667.18 L1997.2 667.54 L2001.2 669.56 L2005.2 667.6 L2009.2 669.07 L2013.2 669.53 L2017.2 669.58 L2021.2 668.04 L2025.2 668.08 L2029.2 668.53 L2033.2 669.2 L2037.2 667.47 L2041.2 669.15 L2045.2 669.29 L2049.2 669.46 L2053.2 667.34 L2057.2 669.71 L2061.2 667.5 L2065.2 668.16 L2069.2 668.88 L2073.2 669.69 L2077.2 668.2 L2081.2 669.73 L2085.2 668.76 L2089.2 668.17 L2093.2 668.19 L2097.2 667.84 L2101.2 667.59 L2105.2 667.79 L2109.2 669.21 L2113.2 670.02 L2117.2 667.86 L2121.2 667.58 L2125.2 670.03 L2129.2 668.87 L2133.2 668.55 L2137.2 668.12 L2141.2 669.06 L2145.2 669.68 L2149.2 668.73 L2153.2 668.65 L2157.2 667.71 L2161.2 669.96 L2165.2 667.68 L2169.2 668.89 L2173.2 669.8 L2177.2 667.97 L2181.2 669.54 L2185.2 670.12 L2189.2 669.31 L2193.2 669.73 L2197.2 667.97" fill="none" stroke="#f00" stroke-width="1.0" stroke-linejoin="round" stroke-linecap="round" stroke-dasharray="2 5" opacity="0.7"/>
<g fill="none" stroke="#f00" stroke-width="1.6" stroke-dasharray="2.2 2.8"><circle cx="1358.5" cy="632" r="4"/><circle cx="1359.3" cy="638.95" r="4"/><circle cx="1360.36" cy="645.87" r="4"/><circle cx="1362.45" cy="652.53" r="4"/><circle cx="1365.97" cy="658.57" r="4"/><circle cx="1369.7" cy="664.5" r="4"/><circle cx="1372.45" cy="670.93" r="4"/><circle cx="1376.34" cy="676.64" r="4"/><circle cx="1382.54" cy="679.59" r="4"/><circle cx="1387.43" cy="675.13" r="4"/><circle cx="1390.45" cy="668.82" r="4"/><circle cx="1472.2" cy="591.3" r="4"/><circle cx="1473.62" cy="599.58" r="4"/><circle cx="1478.09" cy="606.8" r="4"/><circle cx="1483.3" cy="613.51" r="4"/><circle cx="1489.84" cy="618.82" r="4"/><circle cx="1497.97" cy="621.25" r="4"/><circle cx="1505.7" cy="624.68" r="4"/><circle cx="1513.11" cy="628.81" r="4"/><circle cx="1521.42" cy="629.15" r="4"/><circle cx="1529.45" cy="626.39" r="4"/><circle cx="1537.6" cy="623.96" r="4"/><circle cx="1545.89" cy="622.31" r="4"/><circle cx="1552.26" cy="627.19" r="4"/><circle cx="1558.52" cy="632.71" r="4"/><circle cx="1566.34" cy="636.02" r="4"/><circle cx="1574.58" cy="637.98" r="4"/><circle cx="1581.7" cy="633.96" r="4"/><circle cx="1587.24" cy="627.54" r="4"/><circle cx="1593.25" cy="622.67" r="4"/><circle cx="1596.81" cy="630.27" r="4"/><circle cx="1599.94" cy="638.15" r="4"/><circle cx="1605.8" cy="644.21" r="4"/><circle cx="1612.81" cy="649.02" r="4"/><circle cx="1619.8" cy="653.85" r="4"/><circle cx="1627.32" cy="657.8" r="4"/><circle cx="1635.14" cy="661.12" r="4"/><circle cx="1643.27" cy="663.58" r="4"/><circle cx="1651.66" cy="664.93" r="4"/><circle cx="1660.13" cy="665.55" r="4"/><circle cx="1668.63" cy="665.83" r="4"/><circle cx="1677.12" cy="666.07" r="4"/><circle cx="1685.61" cy="666.47" r="4"/><circle cx="1694.09" cy="667.03" r="4"/><circle cx="1702.57" cy="667.63" r="4"/><circle cx="1711.05" cy="668.25" r="4"/><circle cx="1719.53" cy="668.88" r="4"/><circle cx="1727.85" cy="668.05" r="4"/><circle cx="1736.33" cy="668.62" r="4"/><circle cx="1744.76" cy="668.62" r="4"/><circle cx="1752.51" cy="667.32" r="4"/><circle cx="1760.72" cy="668.11" r="4"/><circle cx="1768.73" cy="666.89" r="4"/><circle cx="1777.03" cy="667.04" r="4"/><circle cx="1785.43" cy="667.81" r="4"/><circle cx="1793.66" cy="667.01" r="4"/><circle cx="1801.82" cy="668.78" r="4"/><circle cx="1809.94" cy="667.2" r="4"/><circle cx="1817.8" cy="667.05" r="4"/><circle cx="1825.94" cy="666.8" r="4"/><circle cx="1833.78" cy="668.57" r="4"/><circle cx="1841.89" cy="667.49" r="4"/><circle cx="1849.94" cy="668.59" r="4"/><circle cx="1857.83" cy="668.96" r="4"/><circle cx="1866.14" cy="668.13" r="4"/><circle cx="1874.05" cy="668.99" r="4"/><circle cx="1882.45" cy="669.16" r="4"/><circle cx="1890.66" cy="667.57" r="4"/><circle cx="1899.13" cy="667.17" r="4"/><circle cx="1907.59" cy="667.32" r="4"/><circle cx="1915.81" cy="667.36" r="4"/><circle cx="1923.77" cy="668.03" r="4"/><circle cx="1932.08" cy="668.62" r="4"/><circle cx="1940.41" cy="667.79" r="4"/><circle cx="1948.84" cy="668.7" r="4"/><circle cx="1956.46" cy="669.03" r="4"/><circle cx="1963.86" cy="668.28" r="4"/><circle cx="1971.85" cy="667.76" r="4"/><circle cx="1979.6" cy="668.4" r="4"/><circle cx="1987.83" cy="667.57" r="4"/><circle cx="1996.23" cy="667.45" r="4"/><circle cx="2003.93" cy="668.22" r="4"/><circle cx="2012.01" cy="669.4" r="4"/><circle cx="2020.28" cy="668.39" r="4"/><circle cx="2028.69" cy="668.47" r="4"/><circle cx="2036.81" cy="667.64" r="4"/><circle cx="2044.94" cy="669.28" r="4"/><circle cx="2052.94" cy="667.47" r="4"/><circle cx="2060.31" cy="668" r="4"/><circle cx="2068.58" cy="668.77" r="4"/><circle cx="2076.75" cy="668.37" r="4"/><circle cx="2084.83" cy="668.85" r="4"/><circle cx="2093.27" cy="668.18" r="4"/><circle cx="2101.75" cy="667.62" r="4"/><circle cx="2109.98" cy="669.37" r="4"/><circle cx="2117.87" cy="667.81" r="4"/><circle cx="2125.65" cy="669.9" r="4"/><circle cx="2133.99" cy="668.46" r="4"/><circle cx="2142.35" cy="669.24" r="4"/><circle cx="2150.7" cy="668.7" r="4"/><circle cx="2158.85" cy="668.64" r="4"/><circle cx="2166.35" cy="668.02" r="4"/><circle cx="2174.49" cy="669.21" r="4"/><circle cx="2182.41" cy="669.72" r="4"/><circle cx="2190.79" cy="669.47" r="4"/></g>
<g fill="#fff" stroke="#f00" stroke-width="2.2"><circle cx="1399.01" cy="603.96" r="3.3"/><circle cx="1406.5" cy="494.24" r="3.3"/><circle cx="1413.84" cy="330.41" r="3.3"/><circle cx="1427.13" cy="112.17" r="3.3"/><circle cx="1434.33" cy="231.45" r="3.3"/><circle cx="1443.24" cy="366.64" r="3.3"/><circle cx="1449.59" cy="457.92" r="3.3"/><circle cx="1454.61" cy="528.24" r="3.3"/><circle cx="1463.08" cy="567.84" r="3.3"/><circle cx="1393.4" cy="660.16" r="3.3"/></g>
<line x1="234.8" y1="1552.7" x2="234.8" y2="1539.7" stroke="#000" stroke-width="4.6"/>
<line x1="388.56" y1="1552.7" x2="388.56" y2="1539.7" stroke="#000" stroke-width="4.6"/>
<line x1="542.32" y1="1552.7" x2="542.32" y2="1539.7" stroke="#000" stroke-width="4.6"/>
<line x1="696.08" y1="1552.7" x2="696.08" y2="1539.7" stroke="#000" stroke-width="4.6"/>
<line x1="849.84" y1="1552.7" x2="849.84" y2="1539.7" stroke="#000" stroke-width="4.6"/>
<line x1="1003.6" y1="1552.7" x2="1003.6" y2="1539.7" stroke="#000" stroke-width="4.6"/>
<line x1="311.68" y1="1552.7" x2="311.68" y2="1546.3" stroke="#000" stroke-width="4.6"/>
<line x1="465.44" y1="1552.7" x2="465.44" y2="1546.3" stroke="#000" stroke-width="4.6"/>
<line x1="619.2" y1="1552.7" x2="619.2" y2="1546.3" stroke="#000" stroke-width="4.6"/>
<line x1="772.96" y1="1552.7" x2="772.96" y2="1546.3" stroke="#000" stroke-width="4.6"/>
<line x1="926.72" y1="1552.7" x2="926.72" y2="1546.3" stroke="#000" stroke-width="4.6"/>
<line x1="196.95" y1="1426.36" x2="210.45" y2="1426.36" stroke="#000" stroke-width="4.6"/>
<line x1="196.95" y1="1300.02" x2="210.45" y2="1300.02" stroke="#000" stroke-width="4.6"/>
<line x1="196.95" y1="1173.68" x2="210.45" y2="1173.68" stroke="#000" stroke-width="4.6"/>
<line x1="196.95" y1="1047.34" x2="210.45" y2="1047.34" stroke="#000" stroke-width="4.6"/>
<line x1="196.95" y1="1489.53" x2="202.25" y2="1489.53" stroke="#000" stroke-width="4.6"/>
<line x1="196.95" y1="1363.19" x2="202.25" y2="1363.19" stroke="#000" stroke-width="4.6"/>
<line x1="196.95" y1="1236.85" x2="202.25" y2="1236.85" stroke="#000" stroke-width="4.6"/>
<line x1="196.95" y1="1110.51" x2="202.25" y2="1110.51" stroke="#000" stroke-width="4.6"/>
<line x1="196.95" y1="984.17" x2="202.25" y2="984.17" stroke="#000" stroke-width="4.6"/>
<rect x="196.95" y="920.7" width="844.7" height="632" fill="none" stroke="#000" stroke-width="5.4"/>
<text transform="translate(221.8 1606.48) scale(0.5200 0.5185)" font-size="100">0</text>
<text transform="translate(362.56 1606.48) scale(0.5200 0.5185)" font-size="100">20</text>
<text transform="translate(516.97 1606.48) scale(0.5200 0.5185)" font-size="100">40</text>
<text transform="translate(670.21 1606.48) scale(0.5200 0.5185)" font-size="100">60</text>
<text transform="translate(823.97 1606.48) scale(0.5200 0.5185)" font-size="100">80</text>
<text transform="translate(963.56 1606.48) scale(0.5200 0.5185)" font-size="100">100</text>
<text transform="translate(118.12 1567.67) scale(0.5370 0.5221)" font-size="100">0.0</text>
<text transform="translate(118.66 1441.33) scale(0.5370 0.5221)" font-size="100">0.1</text>
<text transform="translate(118.39 1314.99) scale(0.5370 0.5221)" font-size="100">0.2</text>
<text transform="translate(117.85 1188.65) scale(0.5370 0.5221)" font-size="100">0.3</text>
<text transform="translate(117.05 1062.31) scale(0.5370 0.5221)" font-size="100">0.4</text>
<text transform="translate(117.85 935.97) scale(0.5370 0.5221)" font-size="100">0.5</text>
<text transform="translate(522.78 1713.8) scale(0.6165 0.6198)" font-size="100">Time (s)</text>
<text transform="translate(63.06 1437.23) rotate(-90) scale(0.7065 0.7388)" font-size="100">Current (nA)</text>
<text transform="translate(7.87 908.29) scale(0.6951 0.6890)" font-size="100">(c)</text>
<path d="M234.8 1505.95 L236.34 1507.22 L237.11 1248.11 L237.88 1131.99 L238.64 1130.76 L239.41 1124.31 L240.18 1124.79 L240.95 1118.82 L241.72 1116.97 L242.49 1116.11 L243.26 1110.57 L244.03 1110.94 L244.79 1105.95 L245.56 1105.85 L246.33 1103.42 L247.1 1099.1 L247.87 1094.44 L248.64 1096.84 L249.41 1094.25 L250.18 1089.81 L250.94 1085.98 L251.71 1086.58 L252.48 1086.05 L253.25 1080.79 L254.02 1085.12 L254.79 1078.51 L255.56 1080.68 L256.33 1080.23 L257.1 1079.08 L257.86 1076.62 L258.63 1072.2 L259.4 1075.04 L260.17 1071.39 L260.94 1069.95 L261.71 1070.6 L262.48 1068.5 L263.25 1070.61 L264.01 1069.72 L264.78 1067.91 L265.55 1064.07 L266.32 1064.85 L267.09 1064.79 L267.86 1062.32 L268.63 1062.44 L269.4 1062.71 L270.16 1058.92 L270.93 1058.89 L271.7 1061.15 L272.47 1058.47 L273.24 1058.21 L274.01 1055.46 L274.78 1055.85 L275.55 1058.14 L276.32 1053.28 L277.08 1058.27 L277.85 1055.92 L278.62 1053.35 L279.39 1056.76 L280.16 1054.24 L280.93 1056.7 L281.7 1052.36 L282.47 1051.4 L283.23 1052.28 L284 1050.04 L284.77 1053.28 L285.54 1050.57 L286.31 1050.92 L287.08 1050.73 L287.85 1051.25 L288.62 1048.57 L289.38 1047.66 L290.15 1050.4 L290.92 1048.98 L291.69 1052.57 L292.46 1048.31 L293.23 1048.46 L294 1046.08 L294.77 1046.98 L295.54 1050.19 L296.3 1049.38 L297.07 1047.43 L297.84 1051.35 L298.61 1048.43 L299.38 1050.14 L300.15 1050.32 L300.92 1050.55 L301.69 1045.94 L302.45 1049.86 L303.22 1048.99 L303.99 1047.97 L304.76 1044.82 L305.53 1049.71 L306.3 1047.28 L307.07 1046.55 L307.84 1044.35 L308.6 1044.66 L309.37 1044.3 L310.14 1047.91 L310.91 1046.97 L311.68 1047.25 L312.45 1043.85 L313.22 1043.32 L313.99 1048.35 L314.76 1048.12 L315.14 1067.55 L315.91 1286.08 L316.68 1303.67 L317.45 1318.37 L318.21 1332.16 L318.98 1346.52 L319.75 1359.34 L320.52 1368 L321.29 1377.78 L322.06 1385.58 L322.83 1391.73 L323.6 1400.15 L324.37 1407.54 L325.13 1413.12 L325.9 1418.41 L326.67 1426.35 L327.44 1427.21 L328.21 1432.11 L328.98 1435.71 L329.75 1439.8 L330.52 1445.12 L331.28 1448.33 L332.05 1452.71 L332.82 1453.13 L333.59 1458.39 L334.36 1460.87 L335.13 1462.58 L335.9 1465.01 L336.67 1466.3 L337.43 1469.6 L338.2 1471.72 L338.97 1472.82 L339.74 1474.75 L340.51 1475.18 L341.28 1478.26 L342.05 1475.88 L342.82 1478.47 L343.59 1481.94 L344.35 1482.76 L345.12 1483.57 L345.89 1484.68 L346.66 1486.92 L347.43 1484.71 L348.2 1485.11 L348.97 1488.53 L349.74 1489.42 L350.5 1492.17 L351.27 1493.01 L352.04 1492.79 L352.81 1493.99 L353.58 1492.24 L354.35 1496.06 L355.12 1497.45 L355.89 1493.97 L356.65 1496.6 L357.42 1499.02 L358.19 1497.88 L358.96 1500.87 L359.73 1499.21 L360.5 1497.76 L361.27 1498.87 L362.04 1500.19 L362.81 1502.72 L363.57 1502.76 L364.34 1504.18 L365.11 1501.92 L365.88 1503.49 L366.65 1502.83 L367.42 1505.32 L368.19 1506.24 L368.96 1503.99 L369.72 1503.61 L370.49 1504.6 L371.26 1505.2 L372.03 1505.51 L372.8 1506.23 L373.57 1508.91 L374.34 1507.92 L375.11 1508.99 L375.87 1510.79 L376.64 1511.1 L377.41 1510.25 L378.18 1510.63 L378.95 1508.94 L379.72 1508.01 L380.49 1510.59 L381.26 1508.61 L382.03 1508.63 L382.79 1509.02 L383.56 1511.93 L384.33 1512.81 L385.1 1513 L385.87 1513.35 L386.64 1513.52 L387.41 1511.81 L388.18 1510.74 L388.94 1511.2 L390.25 1246.53 L391.02 1131.99 L391.79 1127.29 L392.56 1122.78 L393.33 1123.86 L394.1 1116.91 L394.86 1112.16 L395.63 1109.91 L396.4 1107.18 L397.17 1106.08 L397.94 1105.26 L398.71 1098.8 L399.48 1099.19 L400.25 1093.83 L401.01 1090.44 L401.78 1091.86 L402.55 1089.7 L403.32 1084.2 L404.09 1083.64 L404.86 1085.26 L405.63 1083.71 L406.4 1081.82 L407.16 1075.38 L407.93 1074.39 L408.7 1077.01 L409.47 1071.23 L410.24 1068.83 L411.01 1069.5 L411.78 1070.12 L412.55 1067.6 L413.32 1069.02 L414.08 1068.59 L414.85 1061.42 L415.62 1062.37 L416.39 1062.12 L417.16 1058.55 L417.93 1060.75 L418.7 1057.06 L419.47 1056.47 L420.23 1059.5 L421 1058.43 L421.77 1057.39 L422.54 1056.96 L423.31 1054.06 L424.08 1055.43 L424.85 1053.75 L425.62 1054.93 L426.38 1049.39 L427.15 1052.31 L427.92 1051.08 L428.69 1049.75 L429.46 1047.19 L430.23 1049.74 L431 1046.12 L431.77 1048.28 L432.54 1047.64 L433.3 1047.27 L434.07 1050.04 L434.84 1046.98 L435.61 1048.22 L436.38 1048.99 L437.15 1043.61 L437.92 1047.24 L438.69 1045.01 L439.45 1043.11 L440.22 1043.87 L440.99 1045.04 L441.76 1043.55 L442.53 1043.05 L443.3 1041.34 L444.07 1045.38 L444.84 1042.28 L445.6 1044.02 L446.37 1043.62 L447.14 1040.29 L447.91 1041.76 L448.68 1041.22 L449.45 1039.78 L450.22 1038.64 L450.99 1041.43 L451.76 1040.2 L452.52 1040.72 L453.29 1040.52 L454.06 1039.24 L454.83 1040.61 L455.6 1039.97 L456.37 1040.19 L457.14 1037.14 L457.91 1038.55 L458.67 1037.31 L459.44 1036.79 L460.21 1040.99 L460.98 1039 L461.75 1036.47 L462.52 1037.03 L463.29 1041.38 L464.06 1041.39 L464.82 1039.29 L465.59 1041.54 L466.36 1040.4 L467.13 1041.38 L467.9 1037.55 L468.67 1036.76 L469.67 1067.55 L470.44 1283.05 L471.21 1304.03 L471.97 1317.31 L472.74 1331.84 L473.51 1347.07 L474.28 1355.35 L475.05 1365.5 L475.82 1378.47 L476.59 1383.82 L477.36 1394.26 L478.13 1401.07 L478.89 1405.38 L479.66 1412.15 L480.43 1420.75 L481.2 1424.63 L481.97 1428.96 L482.74 1434.11 L483.51 1438.79 L484.28 1441.98 L485.04 1443.62 L485.81 1450.06 L486.58 1450.66 L487.35 1454.01 L488.12 1458.59 L488.89 1459.67 L489.66 1460.69 L490.43 1463.42 L491.19 1467.56 L491.96 1465.36 L492.73 1468.14 L493.5 1469.09 L494.27 1474.74 L495.04 1475.63 L495.81 1478.2 L496.58 1476.31 L497.35 1480.03 L498.11 1482.02 L498.88 1481.99 L499.65 1481 L500.42 1482.61 L501.19 1486.3 L501.96 1487.89 L502.73 1485.45 L503.5 1488.05 L504.26 1488.44 L505.03 1492.16 L505.8 1493.21 L506.57 1491.22 L507.34 1493.26 L508.11 1495.68 L508.88 1492.53 L509.65 1494.67 L510.41 1494.65 L511.18 1498.62 L511.95 1495.79 L512.72 1500.05 L513.49 1497.07 L514.26 1499.55 L515.03 1500.67 L515.8 1500.28 L516.57 1499.14 L517.33 1502.68 L518.1 1503.84 L518.87 1502.54 L519.64 1504.35 L520.41 1505.41 L521.18 1505.64 L521.95 1506.59 L522.72 1506.34 L523.48 1506.26 L524.25 1506.7 L525.02 1505.03 L525.79 1507.54 L526.56 1506.96 L527.33 1508.78 L528.1 1508.36 L528.87 1510.19 L529.63 1509.46 L530.4 1510.85 L531.17 1507.89 L531.94 1509.02 L532.71 1510.95 L533.48 1509.93 L534.25 1508.11 L535.02 1512.14 L535.79 1509.15 L536.55 1511.16 L537.32 1511.11 L538.09 1509.8 L538.86 1512.03 L539.63 1511.73 L540.4 1511.11 L541.17 1509.98 L541.94 1513.09 L542.7 1511.05 L543.47 1511.81 L544.24 1512.31 L545.01 1513.53 L545.78 1513.96 L547.09 1250.83 L547.86 1131.99 L548.62 1130.44 L549.39 1127.07 L550.16 1119.25 L550.93 1118.87 L551.7 1116.14 L552.47 1113.45 L553.24 1105.61 L554.01 1102.48 L554.77 1100.92 L555.54 1100.67 L556.31 1098.31 L557.08 1095.48 L557.85 1092.03 L558.62 1091.62 L559.39 1087.58 L560.16 1086.6 L560.92 1080.13 L561.69 1078.09 L562.46 1078.89 L563.23 1078.98 L564 1072.68 L564.77 1075.14 L565.54 1073.23 L566.31 1073.93 L567.08 1070.04 L567.84 1068.02 L568.61 1066.47 L569.38 1067.05 L570.15 1063.86 L570.92 1065.8 L571.69 1062.99 L572.46 1062.97 L573.23 1059.93 L573.99 1061.15 L574.76 1060.28 L575.53 1057.54 L576.3 1057.07 L577.07 1053.95 L577.84 1053.46 L578.61 1051.24 L579.38 1051.05 L580.14 1049.92 L580.91 1048.17 L581.68 1050.56 L582.45 1050.29 L583.22 1045.49 L583.99 1050.15 L584.76 1045.93 L585.53 1045.87 L586.3 1049.11 L587.06 1043.58 L587.83 1042.72 L588.6 1043.9 L589.37 1042.76 L590.14 1041.82 L590.91 1045.64 L591.68 1042.8 L592.45 1042.52 L593.21 1040.05 L593.98 1039.87 L594.75 1039.38 L595.52 1040.58 L596.29 1038.3 L597.06 1039.31 L597.83 1038.95 L598.6 1041.58 L599.36 1042.56 L600.13 1041.65 L600.9 1039.96 L601.67 1041.33 L602.44 1036.47 L603.21 1038 L603.98 1037.34 L604.75 1037.14 L605.52 1036.6 L606.28 1037.61 L607.05 1040.5 L607.82 1035.3 L608.59 1035.44 L609.36 1036.82 L610.13 1036.46 L610.9 1035.53 L611.67 1039.13 L612.43 1034.75 L613.2 1037.68 L613.97 1038.67 L614.74 1037.34 L615.51 1034.29 L616.28 1037.48 L617.05 1034 L617.82 1032.4 L618.58 1035.34 L619.35 1035.95 L620.12 1035.24 L620.89 1033.86 L621.66 1033.25 L622.43 1034.11 L623.2 1033.87 L624.2 1067.55 L624.97 1286.78 L625.73 1304.06 L626.5 1319.42 L627.27 1331.46 L628.04 1346.33 L628.81 1356.78 L629.58 1369.85 L630.35 1379.19 L631.12 1386.93 L631.89 1393.01 L632.65 1400.14 L633.42 1406.81 L634.19 1414.61 L634.96 1419.13 L635.73 1424.48 L636.5 1429.18 L637.27 1435.11 L638.04 1435.62 L638.8 1442.52 L639.57 1442.46 L640.34 1445.89 L641.11 1453.1 L641.88 1453.93 L642.65 1454.95 L643.42 1456.77 L644.19 1461.49 L644.95 1464.53 L645.72 1466.9 L646.49 1465.54 L647.26 1470.76 L648.03 1470.87 L648.8 1474.57 L649.57 1474.45 L650.34 1474.05 L651.11 1479.25 L651.87 1477.53 L652.64 1480.3 L653.41 1479.87 L654.18 1481.95 L654.95 1485.28 L655.72 1483.39 L656.49 1486.36 L657.26 1489.52 L658.02 1490.63 L658.79 1489.39 L659.56 1490.51 L660.33 1492.1 L661.1 1493.71 L661.87 1493.63 L662.64 1494.57 L663.41 1492.97 L664.17 1497.55 L664.94 1494.88 L665.71 1495.19 L666.48 1499.14 L667.25 1496.14 L668.02 1497.75 L668.79 1497.51 L669.56 1500.9 L670.33 1501.1 L671.09 1501.57 L671.86 1499.36 L672.63 1501.75 L673.4 1503.3 L674.17 1503.49 L674.94 1504.66 L675.71 1506.16 L676.48 1506.36 L677.24 1503.46 L678.01 1506.38 L678.78 1503.83 L679.55 1507.35 L680.32 1507.65 L681.09 1506.91 L681.86 1508.73 L682.63 1508.24 L683.39 1505.93 L684.16 1506.58 L684.93 1507.23 L685.7 1508.36 L686.47 1507.37 L687.24 1507.53 L688.01 1509.59 L688.78 1509.09 L689.55 1512.4 L690.31 1509.55 L691.08 1511.07 L691.85 1509.94 L692.62 1510.66 L693.39 1512.51 L694.16 1513.81 L694.93 1510.03 L695.7 1513.87 L696.46 1512.5 L697.23 1513.27 L698 1513.67 L698.77 1511.84 L699.54 1510.93 L700.31 1514.36 L701.08 1512.72 L701.85 1514.5 L702.85 1245.75 L703.61 1131.99 L704.38 1128.67 L705.15 1126.27 L705.92 1122.63 L706.69 1118.8 L707.46 1110.99 L708.23 1110.31 L709 1108.92 L709.76 1101.57 L710.53 1098.11 L711.3 1098.78 L712.07 1098.07 L712.84 1095.16 L713.61 1093.34 L714.38 1089.38 L715.15 1088.69 L715.92 1085.56 L716.68 1083.34 L717.45 1079.35 L718.22 1075.41 L718.99 1074.41 L719.76 1074.75 L720.53 1073.02 L721.3 1070.67 L722.07 1070.01 L722.83 1068.73 L723.6 1069 L724.37 1066.23 L725.14 1060.52 L725.91 1064.54 L726.68 1060.9 L727.45 1058.9 L728.22 1056.28 L728.98 1059.25 L729.75 1057.84 L730.52 1056.96 L731.29 1055.02 L732.06 1053.79 L732.83 1049.67 L733.6 1049.46 L734.37 1048.47 L735.14 1053.04 L735.9 1052.2 L736.67 1047.18 L737.44 1045.29 L738.21 1047.27 L738.98 1045.89 L739.75 1048.97 L740.52 1045.89 L741.29 1041.92 L742.05 1042 L742.82 1041.27 L743.59 1040.02 L744.36 1044.09 L745.13 1044.49 L745.9 1043.75 L746.67 1040.98 L747.44 1039.55 L748.2 1037.5 L748.97 1038.5 L749.74 1038.59 L750.51 1037.49 L751.28 1039.08 L752.05 1038.15 L752.82 1041.06 L753.59 1036.06 L754.36 1039.24 L755.12 1034.61 L755.89 1036.07 L756.66 1037.97 L757.43 1038.83 L758.2 1037.8 L758.97 1035.14 L759.74 1034.52 L760.51 1038.01 L761.27 1038.07 L762.04 1035 L762.81 1034.44 L763.58 1035.49 L764.35 1036.35 L765.12 1033.8 L765.89 1037.37 L766.66 1035.37 L767.42 1034.22 L768.19 1030.93 L768.96 1032.77 L769.73 1031.13 L770.5 1033.58 L771.27 1034.98 L772.04 1034.78 L772.81 1030.16 L773.58 1031.67 L774.34 1034.08 L775.11 1035.78 L775.88 1032.67 L776.65 1031.47 L777.42 1032.99 L778.19 1033.93 L778.96 1031.25 L779.73 1029.55 L780.65 1067.55 L781.42 1286.1 L782.19 1304.58 L782.95 1319.03 L783.72 1332.93 L784.49 1344.62 L785.26 1358.46 L786.03 1366.28 L786.8 1376.1 L787.57 1385.86 L788.34 1395.13 L789.1 1398.87 L789.87 1408.47 L790.64 1412.2 L791.41 1420.43 L792.18 1425.58 L792.95 1427.84 L793.72 1434.31 L794.49 1435.35 L795.26 1441.17 L796.02 1446.05 L796.79 1449.13 L797.56 1451.28 L798.33 1452.99 L799.1 1454.36 L799.87 1460.51 L800.64 1461.74 L801.41 1464.78 L802.17 1463.42 L802.94 1469.19 L803.71 1471.49 L804.48 1473.24 L805.25 1473.42 L806.02 1472.75 L806.79 1474.36 L807.56 1476.52 L808.32 1476.73 L809.09 1478.38 L809.86 1482.41 L810.63 1484.3 L811.4 1482.08 L812.17 1484.08 L812.94 1488.43 L813.71 1486.61 L814.48 1488.92 L815.24 1489.92 L816.01 1491.06 L816.78 1492.7 L817.55 1494.34 L818.32 1493.92 L819.09 1494.41 L819.86 1492.45 L820.63 1496.99 L821.39 1493.91 L822.16 1498.06 L822.93 1498.07 L823.7 1496.62 L824.47 1497.26 L825.24 1499.65 L826.01 1501.99 L826.78 1500.64 L827.54 1501.66 L828.31 1499.72 L829.08 1503.55 L829.85 1503.28 L830.62 1501.35 L831.39 1505.77 L832.16 1504.51 L832.93 1503.13 L833.7 1503.77 L834.46 1507.49 L835.23 1507.93 L836 1508.2 L836.77 1504.68 L837.54 1508.06 L838.31 1506.19 L839.08 1505.85 L839.85 1508.73 L840.61 1509.36 L841.38 1506.56 L842.15 1508.42 L842.92 1510.33 L843.69 1508.55 L844.46 1510.65 L845.23 1511.11 L846 1512.61 L846.76 1509.44 L847.53 1508.95 L848.3 1510.48 L849.07 1509.3 L849.84 1513.7 L850.61 1512.97 L851.38 1512.08 L852.15 1510.09 L852.92 1510.31 L853.68 1513.08 L854.45 1513.88 L855.22 1513.25 L855.99 1513.13 L856.76 1511.32 L858.07 1249.53 L858.83 1131.99 L859.6 1125.78 L860.37 1122.07 L861.14 1117.57 L861.91 1114.08 L862.68 1111.47 L863.45 1109.72 L864.22 1106.4 L864.99 1102.89 L865.75 1097.12 L866.52 1098.56 L867.29 1094.94 L868.06 1088.67 L868.83 1089.2 L869.6 1087.81 L870.37 1085.55 L871.14 1079.92 L871.9 1079.09 L872.67 1072.78 L873.44 1071.3 L874.21 1068.63 L874.98 1071.27 L875.75 1070.56 L876.52 1068.7 L877.29 1064.45 L878.05 1061.48 L878.82 1061.56 L879.59 1061.39 L880.36 1058.77 L881.13 1056.09 L881.9 1054.4 L882.67 1052.64 L883.44 1050.78 L884.21 1050.74 L884.97 1053.02 L885.74 1047.37 L886.51 1049.77 L887.28 1047.03 L888.05 1047.28 L888.82 1044.03 L889.59 1046.54 L890.36 1045.36 L891.12 1044.54 L891.89 1044.33 L892.66 1038.94 L893.43 1040.13 L894.2 1041.02 L894.97 1039.89 L895.74 1035.47 L896.51 1037.91 L897.27 1039.05 L898.04 1034.82 L898.81 1035.24 L899.58 1032.57 L900.35 1037.67 L901.12 1034.82 L901.89 1032.17 L902.66 1031.58 L903.43 1030.68 L904.19 1035.78 L904.96 1033.77 L905.73 1034.48 L906.5 1033.66 L907.27 1028.36 L908.04 1030.47 L908.81 1027.95 L909.58 1031.15 L910.34 1027.73 L911.11 1030.07 L911.88 1030.98 L912.65 1027.44 L913.42 1026.12 L914.19 1031.17 L914.96 1027.83 L915.73 1027.45 L916.49 1029.77 L917.26 1028.6 L918.03 1029.83 L918.8 1029.24 L919.57 1028.73 L920.34 1026.37 L921.11 1025.87 L921.88 1028.53 L922.65 1029.58 L923.41 1027.43 L924.18 1025.06 L924.95 1028.04 L925.72 1027.1 L926.49 1027.65 L927.26 1023.78 L928.03 1025.22 L928.8 1028.17 L929.56 1027.82 L930.33 1025.85 L931.1 1024.77 L931.87 1024.11 L932.64 1027.47 L933.41 1026.92 L934.18 1023.47 L934.95 1025.19 L935.56 1067.55 L936.33 1285.84 L937.1 1303.34 L937.87 1316.24 L938.64 1333.42 L939.41 1345.14 L940.17 1357.74 L940.94 1368.01 L941.71 1375.53 L942.48 1383.62 L943.25 1394.41 L944.02 1402.39 L944.79 1406.57 L945.56 1415.01 L946.32 1421.46 L947.09 1422.49 L947.86 1429.37 L948.63 1431.92 L949.4 1437.84 L950.17 1439.41 L950.94 1444.81 L951.71 1449.41 L952.47 1453.11 L953.24 1453.51 L954.01 1455.76 L954.78 1457.04 L955.55 1463.13 L956.32 1462.92 L957.09 1466.16 L957.86 1467.54 L958.63 1471.06 L959.39 1472.22 L960.16 1472.84 L960.93 1472.62 L961.7 1477.88 L962.47 1477.62 L963.24 1477.6 L964.01 1478.22 L964.78 1483.01 L965.54 1484.57 L966.31 1482.05 L967.08 1483.04 L967.85 1486.38 L968.62 1489.39 L969.39 1486.43 L970.16 1489.86 L970.93 1488.45 L971.69 1490.65 L972.46 1490.6 L973.23 1494.46 L974 1492.44 L974.77 1495.79 L975.54 1495.72 L976.31 1494.44 L977.08 1495.23 L977.85 1498.86 L978.61 1499.36 L979.38 1499.18 L980.15 1499.26 L980.92 1500.47 L981.69 1502.24 L982.46 1502.23 L983.23 1500.61 L984 1500.35 L984.76 1504.75 L985.53 1502.88 L986.3 1502.47 L987.07 1506.2 L987.84 1503.01 L988.61 1506.72 L989.38 1504.95 L990.15 1505.58 L990.91 1505.63 L991.68 1507.47 L992.45 1507.32 L993.22 1506.94 L993.99 1508 L994.76 1507.28 L995.53 1508.57 L996.3 1508.93 L997.07 1511.12 L997.83 1508.71 L998.6 1509.58 L999.37 1511.02 L1000.14 1508.89 L1000.91 1509.07 L1001.68 1510.79 L1002.45 1512.31 L1003.22 1511.21 L1003.98 1513.1" fill="none" stroke="#f00" stroke-width="5.4" stroke-linejoin="round" stroke-linecap="round" />
<g fill="none" stroke="#f00" stroke-width="2.8"><circle cx="234.8" cy="1505.95" r="3.7"/><circle cx="236.34" cy="1507.22" r="3.7"/><circle cx="237.11" cy="1248.11" r="3.7"/><circle cx="237.88" cy="1131.99" r="3.7"/><circle cx="238.64" cy="1130.76" r="3.7"/><circle cx="239.41" cy="1124.31" r="3.7"/><circle cx="240.18" cy="1124.79" r="3.7"/><circle cx="240.95" cy="1118.82" r="3.7"/><circle cx="241.72" cy="1116.97" r="3.7"/><circle cx="242.49" cy="1116.11" r="3.7"/><circle cx="243.26" cy="1110.57" r="3.7"/><circle cx="244.03" cy="1110.94" r="3.7"/><circle cx="244.79" cy="1105.95" r="3.7"/><circle cx="245.56" cy="1105.85" r="3.7"/><circle cx="246.33" cy="1103.42" r="3.7"/><circle cx="247.1" cy="1099.1" r="3.7"/><circle cx="247.87" cy="1094.44" r="3.7"/><circle cx="248.64" cy="1096.84" r="3.7"/><circle cx="249.41" cy="1094.25" r="3.7"/><circle cx="250.18" cy="1089.81" r="3.7"/><circle cx="250.94" cy="1085.98" r="3.7"/><circle cx="251.71" cy="1086.58" r="3.7"/><circle cx="252.48" cy="1086.05" r="3.7"/><circle cx="253.25" cy="1080.79" r="3.7"/><circle cx="254.02" cy="1085.12" r="3.7"/><circle cx="254.79" cy="1078.51" r="3.7"/><circle cx="255.56" cy="1080.68" r="3.7"/><circle cx="256.33" cy="1080.23" r="3.7"/><circle cx="257.1" cy="1079.08" r="3.7"/><circle cx="257.86" cy="1076.62" r="3.7"/><circle cx="258.63" cy="1072.2" r="3.7"/><circle cx="259.4" cy="1075.04" r="3.7"/><circle cx="260.17" cy="1071.39" r="3.7"/><circle cx="260.94" cy="1069.95" r="3.7"/><circle cx="261.71" cy="1070.6" r="3.7"/><circle cx="262.48" cy="1068.5" r="3.7"/><circle cx="263.25" cy="1070.61" r="3.7"/><circle cx="264.01" cy="1069.72" r="3.7"/><circle cx="264.78" cy="1067.91" r="3.7"/><circle cx="265.55" cy="1064.07" r="3.7"/><circle cx="266.32" cy="1064.85" r="3.7"/><circle cx="267.09" cy="1064.79" r="3.7"/><circle cx="267.86" cy="1062.32" r="3.7"/><circle cx="268.63" cy="1062.44" r="3.7"/><circle cx="269.4" cy="1062.71" r="3.7"/><circle cx="270.16" cy="1058.92" r="3.7"/><circle cx="270.93" cy="1058.89" r="3.7"/><circle cx="271.7" cy="1061.15" r="3.7"/><circle cx="272.47" cy="1058.47" r="3.7"/><circle cx="273.24" cy="1058.21" r="3.7"/><circle cx="274.01" cy="1055.46" r="3.7"/><circle cx="274.78" cy="1055.85" r="3.7"/><circle cx="275.55" cy="1058.14" r="3.7"/><circle cx="276.32" cy="1053.28" r="3.7"/><circle cx="277.08" cy="1058.27" r="3.7"/><circle cx="277.85" cy="1055.92" r="3.7"/><circle cx="278.62" cy="1053.35" r="3.7"/><circle cx="279.39" cy="1056.76" r="3.7"/><circle cx="280.16" cy="1054.24" r="3.7"/><circle cx="280.93" cy="1056.7" r="3.7"/><circle cx="281.7" cy="1052.36" r="3.7"/><circle cx="282.47" cy="1051.4" r="3.7"/><circle cx="283.23" cy="1052.28" r="3.7"/><circle cx="284" cy="1050.04" r="3.7"/><circle cx="284.77" cy="1053.28" r="3.7"/><circle cx="285.54" cy="1050.57" r="3.7"/><circle cx="286.31" cy="1050.92" r="3.7"/><circle cx="287.08" cy="1050.73" r="3.7"/><circle cx="287.85" cy="1051.25" r="3.7"/><circle cx="288.62" cy="1048.57" r="3.7"/><circle cx="289.38" cy="1047.66" r="3.7"/><circle cx="290.15" cy="1050.4" r="3.7"/><circle cx="290.92" cy="1048.98" r="3.7"/><circle cx="291.69" cy="1052.57" r="3.7"/><circle cx="292.46" cy="1048.31" r="3.7"/><circle cx="293.23" cy="1048.46" r="3.7"/><circle cx="294" cy="1046.08" r="3.7"/><circle cx="294.77" cy="1046.98" r="3.7"/><circle cx="295.54" cy="1050.19" r="3.7"/><circle cx="296.3" cy="1049.38" r="3.7"/><circle cx="297.07" cy="1047.43" r="3.7"/><circle cx="297.84" cy="1051.35" r="3.7"/><circle cx="298.61" cy="1048.43" r="3.7"/><circle cx="299.38" cy="1050.14" r="3.7"/><circle cx="300.15" cy="1050.32" r="3.7"/><circle cx="300.92" cy="1050.55" r="3.7"/><circle cx="301.69" cy="1045.94" r="3.7"/><circle cx="302.45" cy="1049.86" r="3.7"/><circle cx="303.22" cy="1048.99" r="3.7"/><circle cx="303.99" cy="1047.97" r="3.7"/><circle cx="304.76" cy="1044.82" r="3.7"/><circle cx="305.53" cy="1049.71" r="3.7"/><circle cx="306.3" cy="1047.28" r="3.7"/><circle cx="307.07" cy="1046.55" r="3.7"/><circle cx="307.84" cy="1044.35" r="3.7"/><circle cx="308.6" cy="1044.66" r="3.7"/><circle cx="309.37" cy="1044.3" r="3.7"/><circle cx="310.14" cy="1047.91" r="3.7"/><circle cx="310.91" cy="1046.97" r="3.7"/><circle cx="311.68" cy="1047.25" r="3.7"/><circle cx="312.45" cy="1043.85" r="3.7"/><circle cx="313.22" cy="1043.32" r="3.7"/><circle cx="313.99" cy="1048.35" r="3.7"/><circle cx="314.76" cy="1048.12" r="3.7"/><circle cx="315.14" cy="1067.55" r="3.7"/><circle cx="315.91" cy="1286.08" r="3.7"/><circle cx="316.68" cy="1303.67" r="3.7"/><circle cx="317.45" cy="1318.37" r="3.7"/><circle cx="318.21" cy="1332.16" r="3.7"/><circle cx="318.98" cy="1346.52" r="3.7"/><circle cx="319.75" cy="1359.34" r="3.7"/><circle cx="320.52" cy="1368" r="3.7"/><circle cx="321.29" cy="1377.78" r="3.7"/><circle cx="322.06" cy="1385.58" r="3.7"/><circle cx="322.83" cy="1391.73" r="3.7"/><circle cx="323.6" cy="1400.15" r="3.7"/><circle cx="324.37" cy="1407.54" r="3.7"/><circle cx="325.13" cy="1413.12" r="3.7"/><circle cx="325.9" cy="1418.41" r="3.7"/><circle cx="326.67" cy="1426.35" r="3.7"/><circle cx="327.44" cy="1427.21" r="3.7"/><circle cx="328.21" cy="1432.11" r="3.7"/><circle cx="328.98" cy="1435.71" r="3.7"/><circle cx="329.75" cy="1439.8" r="3.7"/><circle cx="330.52" cy="1445.12" r="3.7"/><circle cx="331.28" cy="1448.33" r="3.7"/><circle cx="332.05" cy="1452.71" r="3.7"/><circle cx="332.82" cy="1453.13" r="3.7"/><circle cx="333.59" cy="1458.39" r="3.7"/><circle cx="334.36" cy="1460.87" r="3.7"/><circle cx="335.13" cy="1462.58" r="3.7"/><circle cx="335.9" cy="1465.01" r="3.7"/><circle cx="336.67" cy="1466.3" r="3.7"/><circle cx="337.43" cy="1469.6" r="3.7"/><circle cx="338.2" cy="1471.72" r="3.7"/><circle cx="338.97" cy="1472.82" r="3.7"/><circle cx="339.74" cy="1474.75" r="3.7"/><circle cx="340.51" cy="1475.18" r="3.7"/><circle cx="341.28" cy="1478.26" r="3.7"/><circle cx="342.05" cy="1475.88" r="3.7"/><circle cx="342.82" cy="1478.47" r="3.7"/><circle cx="343.59" cy="1481.94" r="3.7"/><circle cx="344.35" cy="1482.76" r="3.7"/><circle cx="345.12" cy="1483.57" r="3.7"/><circle cx="345.89" cy="1484.68" r="3.7"/><circle cx="346.66" cy="1486.92" r="3.7"/><circle cx="347.43" cy="1484.71" r="3.7"/><circle cx="348.2" cy="1485.11" r="3.7"/><circle cx="348.97" cy="1488.53" r="3.7"/><circle cx="349.74" cy="1489.42" r="3.7"/><circle cx="350.5" cy="1492.17" r="3.7"/><circle cx="351.27" cy="1493.01" r="3.7"/><circle cx="352.04" cy="1492.79" r="3.7"/><circle cx="352.81" cy="1493.99" r="3.7"/><circle cx="353.58" cy="1492.24" r="3.7"/><circle cx="354.35" cy="1496.06" r="3.7"/><circle cx="355.12" cy="1497.45" r="3.7"/><circle cx="355.89" cy="1493.97" r="3.7"/><circle cx="356.65" cy="1496.6" r="3.7"/><circle cx="357.42" cy="1499.02" r="3.7"/><circle cx="358.19" cy="1497.88" r="3.7"/><circle cx="358.96" cy="1500.87" r="3.7"/><circle cx="359.73" cy="1499.21" r="3.7"/><circle cx="360.5" cy="1497.76" r="3.7"/><circle cx="361.27" cy="1498.87" r="3.7"/><circle cx="362.04" cy="1500.19" r="3.7"/><circle cx="362.81" cy="1502.72" r="3.7"/><circle cx="363.57" cy="1502.76" r="3.7"/><circle cx="364.34" cy="1504.18" r="3.7"/><circle cx="365.11" cy="1501.92" r="3.7"/><circle cx="365.88" cy="1503.49" r="3.7"/><circle cx="366.65" cy="1502.83" r="3.7"/><circle cx="367.42" cy="1505.32" r="3.7"/><circle cx="368.19" cy="1506.24" r="3.7"/><circle cx="368.96" cy="1503.99" r="3.7"/><circle cx="369.72" cy="1503.61" r="3.7"/><circle cx="370.49" cy="1504.6" r="3.7"/><circle cx="371.26" cy="1505.2" r="3.7"/><circle cx="372.03" cy="1505.51" r="3.7"/><circle cx="372.8" cy="1506.23" r="3.7"/><circle cx="373.57" cy="1508.91" r="3.7"/><circle cx="374.34" cy="1507.92" r="3.7"/><circle cx="375.11" cy="1508.99" r="3.7"/><circle cx="375.87" cy="1510.79" r="3.7"/><circle cx="376.64" cy="1511.1" r="3.7"/><circle cx="377.41" cy="1510.25" r="3.7"/><circle cx="378.18" cy="1510.63" r="3.7"/><circle cx="378.95" cy="1508.94" r="3.7"/><circle cx="379.72" cy="1508.01" r="3.7"/><circle cx="380.49" cy="1510.59" r="3.7"/><circle cx="381.26" cy="1508.61" r="3.7"/><circle cx="382.03" cy="1508.63" r="3.7"/><circle cx="382.79" cy="1509.02" r="3.7"/><circle cx="383.56" cy="1511.93" r="3.7"/><circle cx="384.33" cy="1512.81" r="3.7"/><circle cx="385.1" cy="1513" r="3.7"/><circle cx="385.87" cy="1513.35" r="3.7"/><circle cx="386.64" cy="1513.52" r="3.7"/><circle cx="387.41" cy="1511.81" r="3.7"/><circle cx="388.18" cy="1510.74" r="3.7"/><circle cx="388.94" cy="1511.2" r="3.7"/><circle cx="390.25" cy="1246.53" r="3.7"/><circle cx="391.02" cy="1131.99" r="3.7"/><circle cx="391.79" cy="1127.29" r="3.7"/><circle cx="392.56" cy="1122.78" r="3.7"/><circle cx="393.33" cy="1123.86" r="3.7"/><circle cx="394.1" cy="1116.91" r="3.7"/><circle cx="394.86" cy="1112.16" r="3.7"/><circle cx="395.63" cy="1109.91" r="3.7"/><circle cx="396.4" cy="1107.18" r="3.7"/><circle cx="397.17" cy="1106.08" r="3.7"/><circle cx="397.94" cy="1105.26" r="3.7"/><circle cx="398.71" cy="1098.8" r="3.7"/><circle cx="399.48" cy="1099.19" r="3.7"/><circle cx="400.25" cy="1093.83" r="3.7"/><circle cx="401.01" cy="1090.44" r="3.7"/><circle cx="401.78" cy="1091.86" r="3.7"/><circle cx="402.55" cy="1089.7" r="3.7"/><circle cx="403.32" cy="1084.2" r="3.7"/><circle cx="404.09" cy="1083.64" r="3.7"/><circle cx="404.86" cy="1085.26" r="3.7"/><circle cx="405.63" cy="1083.71" r="3.7"/><circle cx="406.4" cy="1081.82" r="3.7"/><circle cx="407.16" cy="1075.38" r="3.7"/><circle cx="407.93" cy="1074.39" r="3.7"/><circle cx="408.7" cy="1077.01" r="3.7"/><circle cx="409.47" cy="1071.23" r="3.7"/><circle cx="410.24" cy="1068.83" r="3.7"/><circle cx="411.01" cy="1069.5" r="3.7"/><circle cx="411.78" cy="1070.12" r="3.7"/><circle cx="412.55" cy="1067.6" r="3.7"/><circle cx="413.32" cy="1069.02" r="3.7"/><circle cx="414.08" cy="1068.59" r="3.7"/><circle cx="414.85" cy="1061.42" r="3.7"/><circle cx="415.62" cy="1062.37" r="3.7"/><circle cx="416.39" cy="1062.12" r="3.7"/><circle cx="417.16" cy="1058.55" r="3.7"/><circle cx="417.93" cy="1060.75" r="3.7"/><circle cx="418.7" cy="1057.06" r="3.7"/><circle cx="419.47" cy="1056.47" r="3.7"/><circle cx="420.23" cy="1059.5" r="3.7"/><circle cx="421" cy="1058.43" r="3.7"/><circle cx="421.77" cy="1057.39" r="3.7"/><circle cx="422.54" cy="1056.96" r="3.7"/><circle cx="423.31" cy="1054.06" r="3.7"/><circle cx="424.08" cy="1055.43" r="3.7"/><circle cx="424.85" cy="1053.75" r="3.7"/><circle cx="425.62" cy="1054.93" r="3.7"/><circle cx="426.38" cy="1049.39" r="3.7"/><circle cx="427.15" cy="1052.31" r="3.7"/><circle cx="427.92" cy="1051.08" r="3.7"/><circle cx="428.69" cy="1049.75" r="3.7"/><circle cx="429.46" cy="1047.19" r="3.7"/><circle cx="430.23" cy="1049.74" r="3.7"/><circle cx="431" cy="1046.12" r="3.7"/><circle cx="431.77" cy="1048.28" r="3.7"/><circle cx="432.54" cy="1047.64" r="3.7"/><circle cx="433.3" cy="1047.27" r="3.7"/><circle cx="434.07" cy="1050.04" r="3.7"/><circle cx="434.84" cy="1046.98" r="3.7"/><circle cx="435.61" cy="1048.22" r="3.7"/><circle cx="436.38" cy="1048.99" r="3.7"/><circle cx="437.15" cy="1043.61" r="3.7"/><circle cx="437.92" cy="1047.24" r="3.7"/><circle cx="438.69" cy="1045.01" r="3.7"/><circle cx="439.45" cy="1043.11" r="3.7"/><circle cx="440.22" cy="1043.87" r="3.7"/><circle cx="440.99" cy="1045.04" r="3.7"/><circle cx="441.76" cy="1043.55" r="3.7"/><circle cx="442.53" cy="1043.05" r="3.7"/><circle cx="443.3" cy="1041.34" r="3.7"/><circle cx="444.07" cy="1045.38" r="3.7"/><circle cx="444.84" cy="1042.28" r="3.7"/><circle cx="445.6" cy="1044.02" r="3.7"/><circle cx="446.37" cy="1043.62" r="3.7"/><circle cx="447.14" cy="1040.29" r="3.7"/><circle cx="447.91" cy="1041.76" r="3.7"/><circle cx="448.68" cy="1041.22" r="3.7"/><circle cx="449.45" cy="1039.78" r="3.7"/><circle cx="450.22" cy="1038.64" r="3.7"/><circle cx="450.99" cy="1041.43" r="3.7"/><circle cx="451.76" cy="1040.2" r="3.7"/><circle cx="452.52" cy="1040.72" r="3.7"/><circle cx="453.29" cy="1040.52" r="3.7"/><circle cx="454.06" cy="1039.24" r="3.7"/><circle cx="454.83" cy="1040.61" r="3.7"/><circle cx="455.6" cy="1039.97" r="3.7"/><circle cx="456.37" cy="1040.19" r="3.7"/><circle cx="457.14" cy="1037.14" r="3.7"/><circle cx="457.91" cy="1038.55" r="3.7"/><circle cx="458.67" cy="1037.31" r="3.7"/><circle cx="459.44" cy="1036.79" r="3.7"/><circle cx="460.21" cy="1040.99" r="3.7"/><circle cx="460.98" cy="1039" r="3.7"/><circle cx="461.75" cy="1036.47" r="3.7"/><circle cx="462.52" cy="1037.03" r="3.7"/><circle cx="463.29" cy="1041.38" r="3.7"/><circle cx="464.06" cy="1041.39" r="3.7"/><circle cx="464.82" cy="1039.29" r="3.7"/><circle cx="465.59" cy="1041.54" r="3.7"/><circle cx="466.36" cy="1040.4" r="3.7"/><circle cx="467.13" cy="1041.38" r="3.7"/><circle cx="467.9" cy="1037.55" r="3.7"/><circle cx="468.67" cy="1036.76" r="3.7"/><circle cx="469.67" cy="1067.55" r="3.7"/><circle cx="470.44" cy="1283.05" r="3.7"/><circle cx="471.21" cy="1304.03" r="3.7"/><circle cx="471.97" cy="1317.31" r="3.7"/><circle cx="472.74" cy="1331.84" r="3.7"/><circle cx="473.51" cy="1347.07" r="3.7"/><circle cx="474.28" cy="1355.35" r="3.7"/><circle cx="475.05" cy="1365.5" r="3.7"/><circle cx="475.82" cy="1378.47" r="3.7"/><circle cx="476.59" cy="1383.82" r="3.7"/><circle cx="477.36" cy="1394.26" r="3.7"/><circle cx="478.13" cy="1401.07" r="3.7"/><circle cx="478.89" cy="1405.38" r="3.7"/><circle cx="479.66" cy="1412.15" r="3.7"/><circle cx="480.43" cy="1420.75" r="3.7"/><circle cx="481.2" cy="1424.63" r="3.7"/><circle cx="481.97" cy="1428.96" r="3.7"/><circle cx="482.74" cy="1434.11" r="3.7"/><circle cx="483.51" cy="1438.79" r="3.7"/><circle cx="484.28" cy="1441.98" r="3.7"/><circle cx="485.04" cy="1443.62" r="3.7"/><circle cx="485.81" cy="1450.06" r="3.7"/><circle cx="486.58" cy="1450.66" r="3.7"/><circle cx="487.35" cy="1454.01" r="3.7"/><circle cx="488.12" cy="1458.59" r="3.7"/><circle cx="488.89" cy="1459.67" r="3.7"/><circle cx="489.66" cy="1460.69" r="3.7"/><circle cx="490.43" cy="1463.42" r="3.7"/><circle cx="491.19" cy="1467.56" r="3.7"/><circle cx="491.96" cy="1465.36" r="3.7"/><circle cx="492.73" cy="1468.14" r="3.7"/><circle cx="493.5" cy="1469.09" r="3.7"/><circle cx="494.27" cy="1474.74" r="3.7"/><circle cx="495.04" cy="1475.63" r="3.7"/><circle cx="495.81" cy="1478.2" r="3.7"/><circle cx="496.58" cy="1476.31" r="3.7"/><circle cx="497.35" cy="1480.03" r="3.7"/><circle cx="498.11" cy="1482.02" r="3.7"/><circle cx="498.88" cy="1481.99" r="3.7"/><circle cx="499.65" cy="1481" r="3.7"/><circle cx="500.42" cy="1482.61" r="3.7"/><circle cx="501.19" cy="1486.3" r="3.7"/><circle cx="501.96" cy="1487.89" r="3.7"/><circle cx="502.73" cy="1485.45" r="3.7"/><circle cx="503.5" cy="1488.05" r="3.7"/><circle cx="504.26" cy="1488.44" r="3.7"/><circle cx="505.03" cy="1492.16" r="3.7"/><circle cx="505.8" cy="1493.21" r="3.7"/><circle cx="506.57" cy="1491.22" r="3.7"/><circle cx="507.34" cy="1493.26" r="3.7"/><circle cx="508.11" cy="1495.68" r="3.7"/><circle cx="508.88" cy="1492.53" r="3.7"/><circle cx="509.65" cy="1494.67" r="3.7"/><circle cx="510.41" cy="1494.65" r="3.7"/><circle cx="511.18" cy="1498.62" r="3.7"/><circle cx="511.95" cy="1495.79" r="3.7"/><circle cx="512.72" cy="1500.05" r="3.7"/><circle cx="513.49" cy="1497.07" r="3.7"/><circle cx="514.26" cy="1499.55" r="3.7"/><circle cx="515.03" cy="1500.67" r="3.7"/><circle cx="515.8" cy="1500.28" r="3.7"/><circle cx="516.57" cy="1499.14" r="3.7"/><circle cx="517.33" cy="1502.68" r="3.7"/><circle cx="518.1" cy="1503.84" r="3.7"/><circle cx="518.87" cy="1502.54" r="3.7"/><circle cx="519.64" cy="1504.35" r="3.7"/><circle cx="520.41" cy="1505.41" r="3.7"/><circle cx="521.18" cy="1505.64" r="3.7"/><circle cx="521.95" cy="1506.59" r="3.7"/><circle cx="522.72" cy="1506.34" r="3.7"/><circle cx="523.48" cy="1506.26" r="3.7"/><circle cx="524.25" cy="1506.7" r="3.7"/><circle cx="525.02" cy="1505.03" r="3.7"/><circle cx="525.79" cy="1507.54" r="3.7"/><circle cx="526.56" cy="1506.96" r="3.7"/><circle cx="527.33" cy="1508.78" r="3.7"/><circle cx="528.1" cy="1508.36" r="3.7"/><circle cx="528.87" cy="1510.19" r="3.7"/><circle cx="529.63" cy="1509.46" r="3.7"/><circle cx="530.4" cy="1510.85" r="3.7"/><circle cx="531.17" cy="1507.89" r="3.7"/><circle cx="531.94" cy="1509.02" r="3.7"/><circle cx="532.71" cy="1510.95" r="3.7"/><circle cx="533.48" cy="1509.93" r="3.7"/><circle cx="534.25" cy="1508.11" r="3.7"/><circle cx="535.02" cy="1512.14" r="3.7"/><circle cx="535.79" cy="1509.15" r="3.7"/><circle cx="536.55" cy="1511.16" r="3.7"/><circle cx="537.32" cy="1511.11" r="3.7"/><circle cx="538.09" cy="1509.8" r="3.7"/><circle cx="538.86" cy="1512.03" r="3.7"/><circle cx="539.63" cy="1511.73" r="3.7"/><circle cx="540.4" cy="1511.11" r="3.7"/><circle cx="541.17" cy="1509.98" r="3.7"/><circle cx="541.94" cy="1513.09" r="3.7"/><circle cx="542.7" cy="1511.05" r="3.7"/><circle cx="543.47" cy="1511.81" r="3.7"/><circle cx="544.24" cy="1512.31" r="3.7"/><circle cx="545.01" cy="1513.53" r="3.7"/><circle cx="545.78" cy="1513.96" r="3.7"/><circle cx="547.09" cy="1250.83" r="3.7"/><circle cx="547.86" cy="1131.99" r="3.7"/><circle cx="548.62" cy="1130.44" r="3.7"/><circle cx="549.39" cy="1127.07" r="3.7"/><circle cx="550.16" cy="1119.25" r="3.7"/><circle cx="550.93" cy="1118.87" r="3.7"/><circle cx="551.7" cy="1116.14" r="3.7"/><circle cx="552.47" cy="1113.45" r="3.7"/><circle cx="553.24" cy="1105.61" r="3.7"/><circle cx="554.01" cy="1102.48" r="3.7"/><circle cx="554.77" cy="1100.92" r="3.7"/><circle cx="555.54" cy="1100.67" r="3.7"/><circle cx="556.31" cy="1098.31" r="3.7"/><circle cx="557.08" cy="1095.48" r="3.7"/><circle cx="557.85" cy="1092.03" r="3.7"/><circle cx="558.62" cy="1091.62" r="3.7"/><circle cx="559.39" cy="1087.58" r="3.7"/><circle cx="560.16" cy="1086.6" r="3.7"/><circle cx="560.92" cy="1080.13" r="3.7"/><circle cx="561.69" cy="1078.09" r="3.7"/><circle cx="562.46" cy="1078.89" r="3.7"/><circle cx="563.23" cy="1078.98" r="3.7"/><circle cx="564" cy="1072.68" r="3.7"/><circle cx="564.77" cy="1075.14" r="3.7"/><circle cx="565.54" cy="1073.23" r="3.7"/><circle cx="566.31" cy="1073.93" r="3.7"/><circle cx="567.08" cy="1070.04" r="3.7"/><circle cx="567.84" cy="1068.02" r="3.7"/><circle cx="568.61" cy="1066.47" r="3.7"/><circle cx="569.38" cy="1067.05" r="3.7"/><circle cx="570.15" cy="1063.86" r="3.7"/><circle cx="570.92" cy="1065.8" r="3.7"/><circle cx="571.69" cy="1062.99" r="3.7"/><circle cx="572.46" cy="1062.97" r="3.7"/><circle cx="573.23" cy="1059.93" r="3.7"/><circle cx="573.99" cy="1061.15" r="3.7"/><circle cx="574.76" cy="1060.28" r="3.7"/><circle cx="575.53" cy="1057.54" r="3.7"/><circle cx="576.3" cy="1057.07" r="3.7"/><circle cx="577.07" cy="1053.95" r="3.7"/><circle cx="577.84" cy="1053.46" r="3.7"/><circle cx="578.61" cy="1051.24" r="3.7"/><circle cx="579.38" cy="1051.05" r="3.7"/><circle cx="580.14" cy="1049.92" r="3.7"/><circle cx="580.91" cy="1048.17" r="3.7"/><circle cx="581.68" cy="1050.56" r="3.7"/><circle cx="582.45" cy="1050.29" r="3.7"/><circle cx="583.22" cy="1045.49" r="3.7"/><circle cx="583.99" cy="1050.15" r="3.7"/><circle cx="584.76" cy="1045.93" r="3.7"/><circle cx="585.53" cy="1045.87" r="3.7"/><circle cx="586.3" cy="1049.11" r="3.7"/><circle cx="587.06" cy="1043.58" r="3.7"/><circle cx="587.83" cy="1042.72" r="3.7"/><circle cx="588.6" cy="1043.9" r="3.7"/><circle cx="589.37" cy="1042.76" r="3.7"/><circle cx="590.14" cy="1041.82" r="3.7"/><circle cx="590.91" cy="1045.64" r="3.7"/><circle cx="591.68" cy="1042.8" r="3.7"/><circle cx="592.45" cy="1042.52" r="3.7"/><circle cx="593.21" cy="1040.05" r="3.7"/><circle cx="593.98" cy="1039.87" r="3.7"/><circle cx="594.75" cy="1039.38" r="3.7"/><circle cx="595.52" cy="1040.58" r="3.7"/><circle cx="596.29" cy="1038.3" r="3.7"/><circle cx="597.06" cy="1039.31" r="3.7"/><circle cx="597.83" cy="1038.95" r="3.7"/><circle cx="598.6" cy="1041.58" r="3.7"/><circle cx="599.36" cy="1042.56" r="3.7"/><circle cx="600.13" cy="1041.65" r="3.7"/><circle cx="600.9" cy="1039.96" r="3.7"/><circle cx="601.67" cy="1041.33" r="3.7"/><circle cx="602.44" cy="1036.47" r="3.7"/><circle cx="603.21" cy="1038" r="3.7"/><circle cx="603.98" cy="1037.34" r="3.7"/><circle cx="604.75" cy="1037.14" r="3.7"/><circle cx="605.52" cy="1036.6" r="3.7"/><circle cx="606.28" cy="1037.61" r="3.7"/><circle cx="607.05" cy="1040.5" r="3.7"/><circle cx="607.82" cy="1035.3" r="3.7"/><circle cx="608.59" cy="1035.44" r="3.7"/><circle cx="609.36" cy="1036.82" r="3.7"/><circle cx="610.13" cy="1036.46" r="3.7"/><circle cx="610.9" cy="1035.53" r="3.7"/><circle cx="611.67" cy="1039.13" r="3.7"/><circle cx="612.43" cy="1034.75" r="3.7"/><circle cx="613.2" cy="1037.68" r="3.7"/><circle cx="613.97" cy="1038.67" r="3.7"/><circle cx="614.74" cy="1037.34" r="3.7"/><circle cx="615.51" cy="1034.29" r="3.7"/><circle cx="616.28" cy="1037.48" r="3.7"/><circle cx="617.05" cy="1034" r="3.7"/><circle cx="617.82" cy="1032.4" r="3.7"/><circle cx="618.58" cy="1035.34" r="3.7"/><circle cx="619.35" cy="1035.95" r="3.7"/><circle cx="620.12" cy="1035.24" r="3.7"/><circle cx="620.89" cy="1033.86" r="3.7"/><circle cx="621.66" cy="1033.25" r="3.7"/><circle cx="622.43" cy="1034.11" r="3.7"/><circle cx="623.2" cy="1033.87" r="3.7"/><circle cx="624.2" cy="1067.55" r="3.7"/><circle cx="624.97" cy="1286.78" r="3.7"/><circle cx="625.73" cy="1304.06" r="3.7"/><circle cx="626.5" cy="1319.42" r="3.7"/><circle cx="627.27" cy="1331.46" r="3.7"/><circle cx="628.04" cy="1346.33" r="3.7"/><circle cx="628.81" cy="1356.78" r="3.7"/><circle cx="629.58" cy="1369.85" r="3.7"/><circle cx="630.35" cy="1379.19" r="3.7"/><circle cx="631.12" cy="1386.93" r="3.7"/><circle cx="631.89" cy="1393.01" r="3.7"/><circle cx="632.65" cy="1400.14" r="3.7"/><circle cx="633.42" cy="1406.81" r="3.7"/><circle cx="634.19" cy="1414.61" r="3.7"/><circle cx="634.96" cy="1419.13" r="3.7"/><circle cx="635.73" cy="1424.48" r="3.7"/><circle cx="636.5" cy="1429.18" r="3.7"/><circle cx="637.27" cy="1435.11" r="3.7"/><circle cx="638.04" cy="1435.62" r="3.7"/><circle cx="638.8" cy="1442.52" r="3.7"/><circle cx="639.57" cy="1442.46" r="3.7"/><circle cx="640.34" cy="1445.89" r="3.7"/><circle cx="641.11" cy="1453.1" r="3.7"/><circle cx="641.88" cy="1453.93" r="3.7"/><circle cx="642.65" cy="1454.95" r="3.7"/><circle cx="643.42" cy="1456.77" r="3.7"/><circle cx="644.19" cy="1461.49" r="3.7"/><circle cx="644.95" cy="1464.53" r="3.7"/><circle cx="645.72" cy="1466.9" r="3.7"/><circle cx="646.49" cy="1465.54" r="3.7"/><circle cx="647.26" cy="1470.76" r="3.7"/><circle cx="648.03" cy="1470.87" r="3.7"/><circle cx="648.8" cy="1474.57" r="3.7"/><circle cx="649.57" cy="1474.45" r="3.7"/><circle cx="650.34" cy="1474.05" r="3.7"/><circle cx="651.11" cy="1479.25" r="3.7"/><circle cx="651.87" cy="1477.53" r="3.7"/><circle cx="652.64" cy="1480.3" r="3.7"/><circle cx="653.41" cy="1479.87" r="3.7"/><circle cx="654.18" cy="1481.95" r="3.7"/><circle cx="654.95" cy="1485.28" r="3.7"/><circle cx="655.72" cy="1483.39" r="3.7"/><circle cx="656.49" cy="1486.36" r="3.7"/><circle cx="657.26" cy="1489.52" r="3.7"/><circle cx="658.02" cy="1490.63" r="3.7"/><circle cx="658.79" cy="1489.39" r="3.7"/><circle cx="659.56" cy="1490.51" r="3.7"/><circle cx="660.33" cy="1492.1" r="3.7"/><circle cx="661.1" cy="1493.71" r="3.7"/><circle cx="661.87" cy="1493.63" r="3.7"/><circle cx="662.64" cy="1494.57" r="3.7"/><circle cx="663.41" cy="1492.97" r="3.7"/><circle cx="664.17" cy="1497.55" r="3.7"/><circle cx="664.94" cy="1494.88" r="3.7"/><circle cx="665.71" cy="1495.19" r="3.7"/><circle cx="666.48" cy="1499.14" r="3.7"/><circle cx="667.25" cy="1496.14" r="3.7"/><circle cx="668.02" cy="1497.75" r="3.7"/><circle cx="668.79" cy="1497.51" r="3.7"/><circle cx="669.56" cy="1500.9" r="3.7"/><circle cx="670.33" cy="1501.1" r="3.7"/><circle cx="671.09" cy="1501.57" r="3.7"/><circle cx="671.86" cy="1499.36" r="3.7"/><circle cx="672.63" cy="1501.75" r="3.7"/><circle cx="673.4" cy="1503.3" r="3.7"/><circle cx="674.17" cy="1503.49" r="3.7"/><circle cx="674.94" cy="1504.66" r="3.7"/><circle cx="675.71" cy="1506.16" r="3.7"/><circle cx="676.48" cy="1506.36" r="3.7"/><circle cx="677.24" cy="1503.46" r="3.7"/><circle cx="678.01" cy="1506.38" r="3.7"/><circle cx="678.78" cy="1503.83" r="3.7"/><circle cx="679.55" cy="1507.35" r="3.7"/><circle cx="680.32" cy="1507.65" r="3.7"/><circle cx="681.09" cy="1506.91" r="3.7"/><circle cx="681.86" cy="1508.73" r="3.7"/><circle cx="682.63" cy="1508.24" r="3.7"/><circle cx="683.39" cy="1505.93" r="3.7"/><circle cx="684.16" cy="1506.58" r="3.7"/><circle cx="684.93" cy="1507.23" r="3.7"/><circle cx="685.7" cy="1508.36" r="3.7"/><circle cx="686.47" cy="1507.37" r="3.7"/><circle cx="687.24" cy="1507.53" r="3.7"/><circle cx="688.01" cy="1509.59" r="3.7"/><circle cx="688.78" cy="1509.09" r="3.7"/><circle cx="689.55" cy="1512.4" r="3.7"/><circle cx="690.31" cy="1509.55" r="3.7"/><circle cx="691.08" cy="1511.07" r="3.7"/><circle cx="691.85" cy="1509.94" r="3.7"/><circle cx="692.62" cy="1510.66" r="3.7"/><circle cx="693.39" cy="1512.51" r="3.7"/><circle cx="694.16" cy="1513.81" r="3.7"/><circle cx="694.93" cy="1510.03" r="3.7"/><circle cx="695.7" cy="1513.87" r="3.7"/><circle cx="696.46" cy="1512.5" r="3.7"/><circle cx="697.23" cy="1513.27" r="3.7"/><circle cx="698" cy="1513.67" r="3.7"/><circle cx="698.77" cy="1511.84" r="3.7"/><circle cx="699.54" cy="1510.93" r="3.7"/><circle cx="700.31" cy="1514.36" r="3.7"/><circle cx="701.08" cy="1512.72" r="3.7"/><circle cx="701.85" cy="1514.5" r="3.7"/><circle cx="702.85" cy="1245.75" r="3.7"/><circle cx="703.61" cy="1131.99" r="3.7"/><circle cx="704.38" cy="1128.67" r="3.7"/><circle cx="705.15" cy="1126.27" r="3.7"/><circle cx="705.92" cy="1122.63" r="3.7"/><circle cx="706.69" cy="1118.8" r="3.7"/><circle cx="707.46" cy="1110.99" r="3.7"/><circle cx="708.23" cy="1110.31" r="3.7"/><circle cx="709" cy="1108.92" r="3.7"/><circle cx="709.76" cy="1101.57" r="3.7"/><circle cx="710.53" cy="1098.11" r="3.7"/><circle cx="711.3" cy="1098.78" r="3.7"/><circle cx="712.07" cy="1098.07" r="3.7"/><circle cx="712.84" cy="1095.16" r="3.7"/><circle cx="713.61" cy="1093.34" r="3.7"/><circle cx="714.38" cy="1089.38" r="3.7"/><circle cx="715.15" cy="1088.69" r="3.7"/><circle cx="715.92" cy="1085.56" r="3.7"/><circle cx="716.68" cy="1083.34" r="3.7"/><circle cx="717.45" cy="1079.35" r="3.7"/><circle cx="718.22" cy="1075.41" r="3.7"/><circle cx="718.99" cy="1074.41" r="3.7"/><circle cx="719.76" cy="1074.75" r="3.7"/><circle cx="720.53" cy="1073.02" r="3.7"/><circle cx="721.3" cy="1070.67" r="3.7"/><circle cx="722.07" cy="1070.01" r="3.7"/><circle cx="722.83" cy="1068.73" r="3.7"/><circle cx="723.6" cy="1069" r="3.7"/><circle cx="724.37" cy="1066.23" r="3.7"/><circle cx="725.14" cy="1060.52" r="3.7"/><circle cx="725.91" cy="1064.54" r="3.7"/><circle cx="726.68" cy="1060.9" r="3.7"/><circle cx="727.45" cy="1058.9" r="3.7"/><circle cx="728.22" cy="1056.28" r="3.7"/><circle cx="728.98" cy="1059.25" r="3.7"/><circle cx="729.75" cy="1057.84" r="3.7"/><circle cx="730.52" cy="1056.96" r="3.7"/><circle cx="731.29" cy="1055.02" r="3.7"/><circle cx="732.06" cy="1053.79" r="3.7"/><circle cx="732.83" cy="1049.67" r="3.7"/><circle cx="733.6" cy="1049.46" r="3.7"/><circle cx="734.37" cy="1048.47" r="3.7"/><circle cx="735.14" cy="1053.04" r="3.7"/><circle cx="735.9" cy="1052.2" r="3.7"/><circle cx="736.67" cy="1047.18" r="3.7"/><circle cx="737.44" cy="1045.29" r="3.7"/><circle cx="738.21" cy="1047.27" r="3.7"/><circle cx="738.98" cy="1045.89" r="3.7"/><circle cx="739.75" cy="1048.97" r="3.7"/><circle cx="740.52" cy="1045.89" r="3.7"/><circle cx="741.29" cy="1041.92" r="3.7"/><circle cx="742.05" cy="1042" r="3.7"/><circle cx="742.82" cy="1041.27" r="3.7"/><circle cx="743.59" cy="1040.02" r="3.7"/><circle cx="744.36" cy="1044.09" r="3.7"/><circle cx="745.13" cy="1044.49" r="3.7"/><circle cx="745.9" cy="1043.75" r="3.7"/><circle cx="746.67" cy="1040.98" r="3.7"/><circle cx="747.44" cy="1039.55" r="3.7"/><circle cx="748.2" cy="1037.5" r="3.7"/><circle cx="748.97" cy="1038.5" r="3.7"/><circle cx="749.74" cy="1038.59" r="3.7"/><circle cx="750.51" cy="1037.49" r="3.7"/><circle cx="751.28" cy="1039.08" r="3.7"/><circle cx="752.05" cy="1038.15" r="3.7"/><circle cx="752.82" cy="1041.06" r="3.7"/><circle cx="753.59" cy="1036.06" r="3.7"/><circle cx="754.36" cy="1039.24" r="3.7"/><circle cx="755.12" cy="1034.61" r="3.7"/><circle cx="755.89" cy="1036.07" r="3.7"/><circle cx="756.66" cy="1037.97" r="3.7"/><circle cx="757.43" cy="1038.83" r="3.7"/><circle cx="758.2" cy="1037.8" r="3.7"/><circle cx="758.97" cy="1035.14" r="3.7"/><circle cx="759.74" cy="1034.52" r="3.7"/><circle cx="760.51" cy="1038.01" r="3.7"/><circle cx="761.27" cy="1038.07" r="3.7"/><circle cx="762.04" cy="1035" r="3.7"/><circle cx="762.81" cy="1034.44" r="3.7"/><circle cx="763.58" cy="1035.49" r="3.7"/><circle cx="764.35" cy="1036.35" r="3.7"/><circle cx="765.12" cy="1033.8" r="3.7"/><circle cx="765.89" cy="1037.37" r="3.7"/><circle cx="766.66" cy="1035.37" r="3.7"/><circle cx="767.42" cy="1034.22" r="3.7"/><circle cx="768.19" cy="1030.93" r="3.7"/><circle cx="768.96" cy="1032.77" r="3.7"/><circle cx="769.73" cy="1031.13" r="3.7"/><circle cx="770.5" cy="1033.58" r="3.7"/><circle cx="771.27" cy="1034.98" r="3.7"/><circle cx="772.04" cy="1034.78" r="3.7"/><circle cx="772.81" cy="1030.16" r="3.7"/><circle cx="773.58" cy="1031.67" r="3.7"/><circle cx="774.34" cy="1034.08" r="3.7"/><circle cx="775.11" cy="1035.78" r="3.7"/><circle cx="775.88" cy="1032.67" r="3.7"/><circle cx="776.65" cy="1031.47" r="3.7"/><circle cx="777.42" cy="1032.99" r="3.7"/><circle cx="778.19" cy="1033.93" r="3.7"/><circle cx="778.96" cy="1031.25" r="3.7"/><circle cx="779.73" cy="1029.55" r="3.7"/><circle cx="780.65" cy="1067.55" r="3.7"/><circle cx="781.42" cy="1286.1" r="3.7"/><circle cx="782.19" cy="1304.58" r="3.7"/><circle cx="782.95" cy="1319.03" r="3.7"/><circle cx="783.72" cy="1332.93" r="3.7"/><circle cx="784.49" cy="1344.62" r="3.7"/><circle cx="785.26" cy="1358.46" r="3.7"/><circle cx="786.03" cy="1366.28" r="3.7"/><circle cx="786.8" cy="1376.1" r="3.7"/><circle cx="787.57" cy="1385.86" r="3.7"/><circle cx="788.34" cy="1395.13" r="3.7"/><circle cx="789.1" cy="1398.87" r="3.7"/><circle cx="789.87" cy="1408.47" r="3.7"/><circle cx="790.64" cy="1412.2" r="3.7"/><circle cx="791.41" cy="1420.43" r="3.7"/><circle cx="792.18" cy="1425.58" r="3.7"/><circle cx="792.95" cy="1427.84" r="3.7"/><circle cx="793.72" cy="1434.31" r="3.7"/><circle cx="794.49" cy="1435.35" r="3.7"/><circle cx="795.26" cy="1441.17" r="3.7"/><circle cx="796.02" cy="1446.05" r="3.7"/><circle cx="796.79" cy="1449.13" r="3.7"/><circle cx="797.56" cy="1451.28" r="3.7"/><circle cx="798.33" cy="1452.99" r="3.7"/><circle cx="799.1" cy="1454.36" r="3.7"/><circle cx="799.87" cy="1460.51" r="3.7"/><circle cx="800.64" cy="1461.74" r="3.7"/><circle cx="801.41" cy="1464.78" r="3.7"/><circle cx="802.17" cy="1463.42" r="3.7"/><circle cx="802.94" cy="1469.19" r="3.7"/><circle cx="803.71" cy="1471.49" r="3.7"/><circle cx="804.48" cy="1473.24" r="3.7"/><circle cx="805.25" cy="1473.42" r="3.7"/><circle cx="806.02" cy="1472.75" r="3.7"/><circle cx="806.79" cy="1474.36" r="3.7"/><circle cx="807.56" cy="1476.52" r="3.7"/><circle cx="808.32" cy="1476.73" r="3.7"/><circle cx="809.09" cy="1478.38" r="3.7"/><circle cx="809.86" cy="1482.41" r="3.7"/><circle cx="810.63" cy="1484.3" r="3.7"/><circle cx="811.4" cy="1482.08" r="3.7"/><circle cx="812.17" cy="1484.08" r="3.7"/><circle cx="812.94" cy="1488.43" r="3.7"/><circle cx="813.71" cy="1486.61" r="3.7"/><circle cx="814.48" cy="1488.92" r="3.7"/><circle cx="815.24" cy="1489.92" r="3.7"/><circle cx="816.01" cy="1491.06" r="3.7"/><circle cx="816.78" cy="1492.7" r="3.7"/><circle cx="817.55" cy="1494.34" r="3.7"/><circle cx="818.32" cy="1493.92" r="3.7"/><circle cx="819.09" cy="1494.41" r="3.7"/><circle cx="819.86" cy="1492.45" r="3.7"/><circle cx="820.63" cy="1496.99" r="3.7"/><circle cx="821.39" cy="1493.91" r="3.7"/><circle cx="822.16" cy="1498.06" r="3.7"/><circle cx="822.93" cy="1498.07" r="3.7"/><circle cx="823.7" cy="1496.62" r="3.7"/><circle cx="824.47" cy="1497.26" r="3.7"/><circle cx="825.24" cy="1499.65" r="3.7"/><circle cx="826.01" cy="1501.99" r="3.7"/><circle cx="826.78" cy="1500.64" r="3.7"/><circle cx="827.54" cy="1501.66" r="3.7"/><circle cx="828.31" cy="1499.72" r="3.7"/><circle cx="829.08" cy="1503.55" r="3.7"/><circle cx="829.85" cy="1503.28" r="3.7"/><circle cx="830.62" cy="1501.35" r="3.7"/><circle cx="831.39" cy="1505.77" r="3.7"/><circle cx="832.16" cy="1504.51" r="3.7"/><circle cx="832.93" cy="1503.13" r="3.7"/><circle cx="833.7" cy="1503.77" r="3.7"/><circle cx="834.46" cy="1507.49" r="3.7"/><circle cx="835.23" cy="1507.93" r="3.7"/><circle cx="836" cy="1508.2" r="3.7"/><circle cx="836.77" cy="1504.68" r="3.7"/><circle cx="837.54" cy="1508.06" r="3.7"/><circle cx="838.31" cy="1506.19" r="3.7"/><circle cx="839.08" cy="1505.85" r="3.7"/><circle cx="839.85" cy="1508.73" r="3.7"/><circle cx="840.61" cy="1509.36" r="3.7"/><circle cx="841.38" cy="1506.56" r="3.7"/><circle cx="842.15" cy="1508.42" r="3.7"/><circle cx="842.92" cy="1510.33" r="3.7"/><circle cx="843.69" cy="1508.55" r="3.7"/><circle cx="844.46" cy="1510.65" r="3.7"/><circle cx="845.23" cy="1511.11" r="3.7"/><circle cx="846" cy="1512.61" r="3.7"/><circle cx="846.76" cy="1509.44" r="3.7"/><circle cx="847.53" cy="1508.95" r="3.7"/><circle cx="848.3" cy="1510.48" r="3.7"/><circle cx="849.07" cy="1509.3" r="3.7"/><circle cx="849.84" cy="1513.7" r="3.7"/><circle cx="850.61" cy="1512.97" r="3.7"/><circle cx="851.38" cy="1512.08" r="3.7"/><circle cx="852.15" cy="1510.09" r="3.7"/><circle cx="852.92" cy="1510.31" r="3.7"/><circle cx="853.68" cy="1513.08" r="3.7"/><circle cx="854.45" cy="1513.88" r="3.7"/><circle cx="855.22" cy="1513.25" r="3.7"/><circle cx="855.99" cy="1513.13" r="3.7"/><circle cx="856.76" cy="1511.32" r="3.7"/><circle cx="858.07" cy="1249.53" r="3.7"/><circle cx="858.83" cy="1131.99" r="3.7"/><circle cx="859.6" cy="1125.78" r="3.7"/><circle cx="860.37" cy="1122.07" r="3.7"/><circle cx="861.14" cy="1117.57" r="3.7"/><circle cx="861.91" cy="1114.08" r="3.7"/><circle cx="862.68" cy="1111.47" r="3.7"/><circle cx="863.45" cy="1109.72" r="3.7"/><circle cx="864.22" cy="1106.4" r="3.7"/><circle cx="864.99" cy="1102.89" r="3.7"/><circle cx="865.75" cy="1097.12" r="3.7"/><circle cx="866.52" cy="1098.56" r="3.7"/><circle cx="867.29" cy="1094.94" r="3.7"/><circle cx="868.06" cy="1088.67" r="3.7"/><circle cx="868.83" cy="1089.2" r="3.7"/><circle cx="869.6" cy="1087.81" r="3.7"/><circle cx="870.37" cy="1085.55" r="3.7"/><circle cx="871.14" cy="1079.92" r="3.7"/><circle cx="871.9" cy="1079.09" r="3.7"/><circle cx="872.67" cy="1072.78" r="3.7"/><circle cx="873.44" cy="1071.3" r="3.7"/><circle cx="874.21" cy="1068.63" r="3.7"/><circle cx="874.98" cy="1071.27" r="3.7"/><circle cx="875.75" cy="1070.56" r="3.7"/><circle cx="876.52" cy="1068.7" r="3.7"/><circle cx="877.29" cy="1064.45" r="3.7"/><circle cx="878.05" cy="1061.48" r="3.7"/><circle cx="878.82" cy="1061.56" r="3.7"/><circle cx="879.59" cy="1061.39" r="3.7"/><circle cx="880.36" cy="1058.77" r="3.7"/><circle cx="881.13" cy="1056.09" r="3.7"/><circle cx="881.9" cy="1054.4" r="3.7"/><circle cx="882.67" cy="1052.64" r="3.7"/><circle cx="883.44" cy="1050.78" r="3.7"/><circle cx="884.21" cy="1050.74" r="3.7"/><circle cx="884.97" cy="1053.02" r="3.7"/><circle cx="885.74" cy="1047.37" r="3.7"/><circle cx="886.51" cy="1049.77" r="3.7"/><circle cx="887.28" cy="1047.03" r="3.7"/><circle cx="888.05" cy="1047.28" r="3.7"/><circle cx="888.82" cy="1044.03" r="3.7"/><circle cx="889.59" cy="1046.54" r="3.7"/><circle cx="890.36" cy="1045.36" r="3.7"/><circle cx="891.12" cy="1044.54" r="3.7"/><circle cx="891.89" cy="1044.33" r="3.7"/><circle cx="892.66" cy="1038.94" r="3.7"/><circle cx="893.43" cy="1040.13" r="3.7"/><circle cx="894.2" cy="1041.02" r="3.7"/><circle cx="894.97" cy="1039.89" r="3.7"/><circle cx="895.74" cy="1035.47" r="3.7"/><circle cx="896.51" cy="1037.91" r="3.7"/><circle cx="897.27" cy="1039.05" r="3.7"/><circle cx="898.04" cy="1034.82" r="3.7"/><circle cx="898.81" cy="1035.24" r="3.7"/><circle cx="899.58" cy="1032.57" r="3.7"/><circle cx="900.35" cy="1037.67" r="3.7"/><circle cx="901.12" cy="1034.82" r="3.7"/><circle cx="901.89" cy="1032.17" r="3.7"/><circle cx="902.66" cy="1031.58" r="3.7"/><circle cx="903.43" cy="1030.68" r="3.7"/><circle cx="904.19" cy="1035.78" r="3.7"/><circle cx="904.96" cy="1033.77" r="3.7"/><circle cx="905.73" cy="1034.48" r="3.7"/><circle cx="906.5" cy="1033.66" r="3.7"/><circle cx="907.27" cy="1028.36" r="3.7"/><circle cx="908.04" cy="1030.47" r="3.7"/><circle cx="908.81" cy="1027.95" r="3.7"/><circle cx="909.58" cy="1031.15" r="3.7"/><circle cx="910.34" cy="1027.73" r="3.7"/><circle cx="911.11" cy="1030.07" r="3.7"/><circle cx="911.88" cy="1030.98" r="3.7"/><circle cx="912.65" cy="1027.44" r="3.7"/><circle cx="913.42" cy="1026.12" r="3.7"/><circle cx="914.19" cy="1031.17" r="3.7"/><circle cx="914.96" cy="1027.83" r="3.7"/><circle cx="915.73" cy="1027.45" r="3.7"/><circle cx="916.49" cy="1029.77" r="3.7"/><circle cx="917.26" cy="1028.6" r="3.7"/><circle cx="918.03" cy="1029.83" r="3.7"/><circle cx="918.8" cy="1029.24" r="3.7"/><circle cx="919.57" cy="1028.73" r="3.7"/><circle cx="920.34" cy="1026.37" r="3.7"/><circle cx="921.11" cy="1025.87" r="3.7"/><circle cx="921.88" cy="1028.53" r="3.7"/><circle cx="922.65" cy="1029.58" r="3.7"/><circle cx="923.41" cy="1027.43" r="3.7"/><circle cx="924.18" cy="1025.06" r="3.7"/><circle cx="924.95" cy="1028.04" r="3.7"/><circle cx="925.72" cy="1027.1" r="3.7"/><circle cx="926.49" cy="1027.65" r="3.7"/><circle cx="927.26" cy="1023.78" r="3.7"/><circle cx="928.03" cy="1025.22" r="3.7"/><circle cx="928.8" cy="1028.17" r="3.7"/><circle cx="929.56" cy="1027.82" r="3.7"/><circle cx="930.33" cy="1025.85" r="3.7"/><circle cx="931.1" cy="1024.77" r="3.7"/><circle cx="931.87" cy="1024.11" r="3.7"/><circle cx="932.64" cy="1027.47" r="3.7"/><circle cx="933.41" cy="1026.92" r="3.7"/><circle cx="934.18" cy="1023.47" r="3.7"/><circle cx="934.95" cy="1025.19" r="3.7"/><circle cx="935.56" cy="1067.55" r="3.7"/><circle cx="936.33" cy="1285.84" r="3.7"/><circle cx="937.1" cy="1303.34" r="3.7"/><circle cx="937.87" cy="1316.24" r="3.7"/><circle cx="938.64" cy="1333.42" r="3.7"/><circle cx="939.41" cy="1345.14" r="3.7"/><circle cx="940.17" cy="1357.74" r="3.7"/><circle cx="940.94" cy="1368.01" r="3.7"/><circle cx="941.71" cy="1375.53" r="3.7"/><circle cx="942.48" cy="1383.62" r="3.7"/><circle cx="943.25" cy="1394.41" r="3.7"/><circle cx="944.02" cy="1402.39" r="3.7"/><circle cx="944.79" cy="1406.57" r="3.7"/><circle cx="945.56" cy="1415.01" r="3.7"/><circle cx="946.32" cy="1421.46" r="3.7"/><circle cx="947.09" cy="1422.49" r="3.7"/><circle cx="947.86" cy="1429.37" r="3.7"/><circle cx="948.63" cy="1431.92" r="3.7"/><circle cx="949.4" cy="1437.84" r="3.7"/><circle cx="950.17" cy="1439.41" r="3.7"/><circle cx="950.94" cy="1444.81" r="3.7"/><circle cx="951.71" cy="1449.41" r="3.7"/><circle cx="952.47" cy="1453.11" r="3.7"/><circle cx="953.24" cy="1453.51" r="3.7"/><circle cx="954.01" cy="1455.76" r="3.7"/><circle cx="954.78" cy="1457.04" r="3.7"/><circle cx="955.55" cy="1463.13" r="3.7"/><circle cx="956.32" cy="1462.92" r="3.7"/><circle cx="957.09" cy="1466.16" r="3.7"/><circle cx="957.86" cy="1467.54" r="3.7"/><circle cx="958.63" cy="1471.06" r="3.7"/><circle cx="959.39" cy="1472.22" r="3.7"/><circle cx="960.16" cy="1472.84" r="3.7"/><circle cx="960.93" cy="1472.62" r="3.7"/><circle cx="961.7" cy="1477.88" r="3.7"/><circle cx="962.47" cy="1477.62" r="3.7"/><circle cx="963.24" cy="1477.6" r="3.7"/><circle cx="964.01" cy="1478.22" r="3.7"/><circle cx="964.78" cy="1483.01" r="3.7"/><circle cx="965.54" cy="1484.57" r="3.7"/><circle cx="966.31" cy="1482.05" r="3.7"/><circle cx="967.08" cy="1483.04" r="3.7"/><circle cx="967.85" cy="1486.38" r="3.7"/><circle cx="968.62" cy="1489.39" r="3.7"/><circle cx="969.39" cy="1486.43" r="3.7"/><circle cx="970.16" cy="1489.86" r="3.7"/><circle cx="970.93" cy="1488.45" r="3.7"/><circle cx="971.69" cy="1490.65" r="3.7"/><circle cx="972.46" cy="1490.6" r="3.7"/><circle cx="973.23" cy="1494.46" r="3.7"/><circle cx="974" cy="1492.44" r="3.7"/><circle cx="974.77" cy="1495.79" r="3.7"/><circle cx="975.54" cy="1495.72" r="3.7"/><circle cx="976.31" cy="1494.44" r="3.7"/><circle cx="977.08" cy="1495.23" r="3.7"/><circle cx="977.85" cy="1498.86" r="3.7"/><circle cx="978.61" cy="1499.36" r="3.7"/><circle cx="979.38" cy="1499.18" r="3.7"/><circle cx="980.15" cy="1499.26" r="3.7"/><circle cx="980.92" cy="1500.47" r="3.7"/><circle cx="981.69" cy="1502.24" r="3.7"/><circle cx="982.46" cy="1502.23" r="3.7"/><circle cx="983.23" cy="1500.61" r="3.7"/><circle cx="984" cy="1500.35" r="3.7"/><circle cx="984.76" cy="1504.75" r="3.7"/><circle cx="985.53" cy="1502.88" r="3.7"/><circle cx="986.3" cy="1502.47" r="3.7"/><circle cx="987.07" cy="1506.2" r="3.7"/><circle cx="987.84" cy="1503.01" r="3.7"/><circle cx="988.61" cy="1506.72" r="3.7"/><circle cx="989.38" cy="1504.95" r="3.7"/><circle cx="990.15" cy="1505.58" r="3.7"/><circle cx="990.91" cy="1505.63" r="3.7"/><circle cx="991.68" cy="1507.47" r="3.7"/><circle cx="992.45" cy="1507.32" r="3.7"/><circle cx="993.22" cy="1506.94" r="3.7"/><circle cx="993.99" cy="1508" r="3.7"/><circle cx="994.76" cy="1507.28" r="3.7"/><circle cx="995.53" cy="1508.57" r="3.7"/><circle cx="996.3" cy="1508.93" r="3.7"/><circle cx="997.07" cy="1511.12" r="3.7"/><circle cx="997.83" cy="1508.71" r="3.7"/><circle cx="998.6" cy="1509.58" r="3.7"/><circle cx="999.37" cy="1511.02" r="3.7"/><circle cx="1000.14" cy="1508.89" r="3.7"/><circle cx="1000.91" cy="1509.07" r="3.7"/><circle cx="1001.68" cy="1510.79" r="3.7"/><circle cx="1002.45" cy="1512.31" r="3.7"/><circle cx="1003.22" cy="1511.21" r="3.7"/><circle cx="1003.98" cy="1513.1" r="3.7"/></g>
<line x1="1442.3" y1="1552.7" x2="1442.3" y2="1539.7" stroke="#000" stroke-width="4.6"/>
<line x1="1611.3" y1="1552.7" x2="1611.3" y2="1539.7" stroke="#000" stroke-width="4.6"/>
<line x1="1780.3" y1="1552.7" x2="1780.3" y2="1539.7" stroke="#000" stroke-width="4.6"/>
<line x1="1949.3" y1="1552.7" x2="1949.3" y2="1539.7" stroke="#000" stroke-width="4.6"/>
<line x1="2118.3" y1="1552.7" x2="2118.3" y2="1539.7" stroke="#000" stroke-width="4.6"/>
<line x1="1526.8" y1="1552.7" x2="1526.8" y2="1546.3" stroke="#000" stroke-width="4.6"/>
<line x1="1695.8" y1="1552.7" x2="1695.8" y2="1546.3" stroke="#000" stroke-width="4.6"/>
<line x1="1864.8" y1="1552.7" x2="1864.8" y2="1546.3" stroke="#000" stroke-width="4.6"/>
<line x1="2033.8" y1="1552.7" x2="2033.8" y2="1546.3" stroke="#000" stroke-width="4.6"/>
<line x1="2202.8" y1="1552.7" x2="2202.8" y2="1546.3" stroke="#000" stroke-width="4.6"/>
<line x1="1357.9" y1="1500.2" x2="1371.4" y2="1500.2" stroke="#000" stroke-width="4.6"/>
<line x1="1357.9" y1="1394.76" x2="1371.4" y2="1394.76" stroke="#000" stroke-width="4.6"/>
<line x1="1357.9" y1="1289.32" x2="1371.4" y2="1289.32" stroke="#000" stroke-width="4.6"/>
<line x1="1357.9" y1="1183.88" x2="1371.4" y2="1183.88" stroke="#000" stroke-width="4.6"/>
<line x1="1357.9" y1="1078.44" x2="1371.4" y2="1078.44" stroke="#000" stroke-width="4.6"/>
<line x1="1357.9" y1="973" x2="1371.4" y2="973" stroke="#000" stroke-width="4.6"/>
<line x1="1357.9" y1="1447.48" x2="1363.2" y2="1447.48" stroke="#000" stroke-width="4.6"/>
<line x1="1357.9" y1="1342.04" x2="1363.2" y2="1342.04" stroke="#000" stroke-width="4.6"/>
<line x1="1357.9" y1="1236.6" x2="1363.2" y2="1236.6" stroke="#000" stroke-width="4.6"/>
<line x1="1357.9" y1="1131.16" x2="1363.2" y2="1131.16" stroke="#000" stroke-width="4.6"/>
<line x1="1357.9" y1="1025.72" x2="1363.2" y2="1025.72" stroke="#000" stroke-width="4.6"/>
<line x1="1357.9" y1="920.28" x2="1363.2" y2="920.28" stroke="#000" stroke-width="4.6"/>
<line x1="1359.6" y1="1025.72" x2="2200.7" y2="1025.72" stroke="#808080" stroke-width="2.2" stroke-dasharray="15.8 15.5"/>
<line x1="1359.6" y1="1447.48" x2="2200.7" y2="1447.48" stroke="#808080" stroke-width="2.2" stroke-dasharray="15.8 15.5"/>
<rect x="1357.9" y="920.7" width="844.8" height="632" fill="none" stroke="#000" stroke-width="5.4"/>
<text transform="translate(1429.3 1606.98) scale(0.5200 0.5230)" font-size="100">0</text>
<text transform="translate(1598.17 1606.97) scale(0.5200 0.5308)" font-size="100">5</text>
<text transform="translate(1753.26 1606.98) scale(0.5200 0.5230)" font-size="100">10</text>
<text transform="translate(1922.13 1606.97) scale(0.5200 0.5269)" font-size="100">15</text>
<text transform="translate(2092.3 1606.98) scale(0.5200 0.5230)" font-size="100">20</text>
<text transform="translate(1278.52 1515.62) scale(0.5370 0.5206)" font-size="100">0.0</text>
<text transform="translate(1278.79 1410.18) scale(0.5370 0.5206)" font-size="100">0.2</text>
<text transform="translate(1277.45 1304.74) scale(0.5370 0.5206)" font-size="100">0.4</text>
<text transform="translate(1277.99 1199.3) scale(0.5370 0.5206)" font-size="100">0.6</text>
<text transform="translate(1278.25 1093.86) scale(0.5370 0.5206)" font-size="100">0.8</text>
<text transform="translate(1278.52 988.42) scale(0.5370 0.5206)" font-size="100">1.0</text>
<text transform="translate(1672.78 1713.8) scale(0.6165 0.6198)" font-size="100">Time (s)</text>
<text transform="translate(1250.5 1525.51) rotate(-90) scale(0.7060 0.6870)" font-size="100">Normalize Current</text>
<text transform="translate(1106.65 919.81) scale(0.7216 0.6648)" font-size="100">(d)</text>
<path d="M1439.93 1498.62 L1445.68 1500.2 L1449.06 1497.04 L1452.44 1500.2 L1455.48 1499.15 L1459.2 1209.19 L1466.3 1081.6 L1469.68 1073.07 L1473.06 1068.08 L1476.44 1067.42 L1479.82 1064.12 L1483.2 1059.23 L1486.58 1055.5 L1489.96 1049.87 L1493.34 1046.18 L1496.72 1042.25 L1500.1 1042.87 L1503.48 1038.7 L1506.86 1036.84 L1510.24 1030.41 L1513.62 1028.39 L1517 1029.19 L1520.38 1022.14 L1523.76 1020.51 L1527.14 1020.42 L1530.52 1018.9 L1533.9 1019.59 L1537.28 1018.66 L1540.66 1014.72 L1544.04 1015.96 L1547.42 1014.03 L1550.8 1012.52 L1554.18 1012.41 L1557.56 1008.88 L1560.94 1007.73 L1564.32 1004.33 L1567.7 1004.74 L1571.08 1002.81 L1574.46 1002.27 L1577.84 1000.12 L1581.22 999.91 L1584.6 999.57 L1587.98 994.49 L1591.36 993.52 L1594.74 993.48 L1598.12 993.33 L1601.5 994.55 L1604.88 994.15 L1608.26 992.99 L1611.64 993.29 L1615.02 988.77 L1618.4 989.85 L1621.78 986.85 L1625.16 988.94 L1628.54 985.58 L1631.92 985.83 L1635.3 989.95 L1638.68 988.51 L1642.06 984.48 L1645.44 986.46 L1648.82 983.43 L1652.2 986.16 L1655.58 987.53 L1658.96 984.26 L1662.34 983.13 L1665.72 985.47 L1669.1 986.09 L1672.48 984.46 L1675.86 980.88 L1679.24 981.73 L1682.62 984.87 L1686 983.95 L1689.38 984.48 L1692.76 984.46 L1696.14 980.34 L1699.52 983.36 L1702.9 981.11 L1706.28 981.46 L1709.66 982.58 L1713.04 979.49 L1716.42 982.42 L1719.8 979.48 L1723.18 982.02 L1726.56 980.16 L1729.94 980.98 L1733.32 980.41 L1736.7 976.43 L1740.08 977.04 L1743.46 979.4 L1746.84 976.06 L1750.22 979.34 L1753.6 978.1 L1756.98 975.39 L1760.36 976.24 L1763.74 978.82 L1767.12 973.86 L1770.5 977.67 L1773.88 977.16 L1777.26 974.19 L1780.64 976.46 L1784.02 976.56 L1787.4 977.66 L1790.78 977.5 L1794.16 974.83 L1797.54 976.55 L1800.92 974.59 L1801.59 975.11 L1803.96 1007.27 L1806.66 1252.42 L1812.75 1297.77 L1816.13 1314.37 L1819.51 1323.76 L1822.89 1333.67 L1826.27 1342.78 L1829.65 1352.09 L1833.03 1365.52 L1836.41 1375.7 L1839.79 1378.22 L1843.17 1384.3 L1846.55 1392.39 L1849.93 1398.34 L1853.31 1401.72 L1856.69 1406.57 L1860.07 1412.95 L1863.45 1412.75 L1866.83 1416.01 L1870.21 1420.16 L1873.59 1423.9 L1876.97 1428.21 L1880.35 1431.46 L1883.73 1430.48 L1887.11 1435.93 L1890.49 1436.36 L1893.87 1440.64 L1897.25 1440.65 L1900.63 1444.01 L1904.01 1447.68 L1907.39 1450.57 L1910.77 1450.36 L1914.15 1454.73 L1917.53 1455.68 L1920.91 1455.91 L1924.29 1456.29 L1927.67 1458.92 L1931.05 1461.95 L1934.43 1460.89 L1937.81 1465.18 L1941.19 1467.02 L1944.57 1467.01 L1947.95 1467.32 L1951.33 1470 L1954.71 1470.57 L1958.09 1470.81 L1961.47 1471.01 L1964.85 1473.92 L1968.23 1474 L1971.61 1472.82 L1974.99 1473.5 L1978.37 1475.92 L1981.75 1476.83 L1985.13 1478.33 L1988.51 1480.93 L1991.89 1481.89 L1995.27 1482.47 L1998.65 1479.22 L2002.03 1480.61 L2005.41 1480.02 L2008.79 1484.5 L2012.17 1482.42 L2015.55 1483.57 L2018.93 1483.04 L2022.31 1485.28 L2025.69 1482.92 L2029.07 1487.33 L2032.45 1485.86 L2035.83 1485.56 L2039.21 1485.38 L2042.59 1486.51 L2045.97 1487.09 L2049.35 1487.15 L2052.73 1487.08 L2056.11 1489.9 L2059.49 1488.94 L2062.87 1488.47 L2066.25 1489.04 L2069.63 1491.39 L2073.01 1490.26 L2076.39 1490.4 L2079.77 1492.06 L2083.15 1492.29 L2086.53 1493.75 L2089.91 1493.35 L2093.29 1493.56 L2096.67 1496.03 L2100.05 1493.9 L2103.43 1492.65 L2106.81 1493.37 L2110.19 1494.24 L2113.57 1495.92 L2116.95 1494.69 L2120.33 1495.58 L2123.71 1496.41 L2127.09 1494.97 L2130.47 1498.39 L2133.85 1495.82 L2137.23 1499.09 L2140.61 1496.92 L2143.65 1497.56" fill="none" stroke="#f00" stroke-width="5.2" stroke-linejoin="round" stroke-linecap="round" />
<g fill="none" stroke="#f00" stroke-width="2.8"><circle cx="1439.93" cy="1498.62" r="3.5"/><circle cx="1445.68" cy="1500.2" r="3.5"/><circle cx="1449.06" cy="1497.04" r="3.5"/><circle cx="1452.44" cy="1500.2" r="3.5"/><circle cx="1455.48" cy="1499.15" r="3.5"/><circle cx="1459.2" cy="1209.19" r="3.5"/><circle cx="1466.3" cy="1081.6" r="3.5"/><circle cx="1469.68" cy="1073.07" r="3.5"/><circle cx="1473.06" cy="1068.08" r="3.5"/><circle cx="1476.44" cy="1067.42" r="3.5"/><circle cx="1479.82" cy="1064.12" r="3.5"/><circle cx="1483.2" cy="1059.23" r="3.5"/><circle cx="1486.58" cy="1055.5" r="3.5"/><circle cx="1489.96" cy="1049.87" r="3.5"/><circle cx="1493.34" cy="1046.18" r="3.5"/><circle cx="1496.72" cy="1042.25" r="3.5"/><circle cx="1500.1" cy="1042.87" r="3.5"/><circle cx="1503.48" cy="1038.7" r="3.5"/><circle cx="1506.86" cy="1036.84" r="3.5"/><circle cx="1510.24" cy="1030.41" r="3.5"/><circle cx="1513.62" cy="1028.39" r="3.5"/><circle cx="1517" cy="1029.19" r="3.5"/><circle cx="1520.38" cy="1022.14" r="3.5"/><circle cx="1523.76" cy="1020.51" r="3.5"/><circle cx="1527.14" cy="1020.42" r="3.5"/><circle cx="1530.52" cy="1018.9" r="3.5"/><circle cx="1533.9" cy="1019.59" r="3.5"/><circle cx="1537.28" cy="1018.66" r="3.5"/><circle cx="1540.66" cy="1014.72" r="3.5"/><circle cx="1544.04" cy="1015.96" r="3.5"/><circle cx="1547.42" cy="1014.03" r="3.5"/><circle cx="1550.8" cy="1012.52" r="3.5"/><circle cx="1554.18" cy="1012.41" r="3.5"/><circle cx="1557.56" cy="1008.88" r="3.5"/><circle cx="1560.94" cy="1007.73" r="3.5"/><circle cx="1564.32" cy="1004.33" r="3.5"/><circle cx="1567.7" cy="1004.74" r="3.5"/><circle cx="1571.08" cy="1002.81" r="3.5"/><circle cx="1574.46" cy="1002.27" r="3.5"/><circle cx="1577.84" cy="1000.12" r="3.5"/><circle cx="1581.22" cy="999.91" r="3.5"/><circle cx="1584.6" cy="999.57" r="3.5"/><circle cx="1587.98" cy="994.49" r="3.5"/><circle cx="1591.36" cy="993.52" r="3.5"/><circle cx="1594.74" cy="993.48" r="3.5"/><circle cx="1598.12" cy="993.33" r="3.5"/><circle cx="1601.5" cy="994.55" r="3.5"/><circle cx="1604.88" cy="994.15" r="3.5"/><circle cx="1608.26" cy="992.99" r="3.5"/><circle cx="1611.64" cy="993.29" r="3.5"/><circle cx="1615.02" cy="988.77" r="3.5"/><circle cx="1618.4" cy="989.85" r="3.5"/><circle cx="1621.78" cy="986.85" r="3.5"/><circle cx="1625.16" cy="988.94" r="3.5"/><circle cx="1628.54" cy="985.58" r="3.5"/><circle cx="1631.92" cy="985.83" r="3.5"/><circle cx="1635.3" cy="989.95" r="3.5"/><circle cx="1638.68" cy="988.51" r="3.5"/><circle cx="1642.06" cy="984.48" r="3.5"/><circle cx="1645.44" cy="986.46" r="3.5"/><circle cx="1648.82" cy="983.43" r="3.5"/><circle cx="1652.2" cy="986.16" r="3.5"/><circle cx="1655.58" cy="987.53" r="3.5"/><circle cx="1658.96" cy="984.26" r="3.5"/><circle cx="1662.34" cy="983.13" r="3.5"/><circle cx="1665.72" cy="985.47" r="3.5"/><circle cx="1669.1" cy="986.09" r="3.5"/><circle cx="1672.48" cy="984.46" r="3.5"/><circle cx="1675.86" cy="980.88" r="3.5"/><circle cx="1679.24" cy="981.73" r="3.5"/><circle cx="1682.62" cy="984.87" r="3.5"/><circle cx="1686" cy="983.95" r="3.5"/><circle cx="1689.38" cy="984.48" r="3.5"/><circle cx="1692.76" cy="984.46" r="3.5"/><circle cx="1696.14" cy="980.34" r="3.5"/><circle cx="1699.52" cy="983.36" r="3.5"/><circle cx="1702.9" cy="981.11" r="3.5"/><circle cx="1706.28" cy="981.46" r="3.5"/><circle cx="1709.66" cy="982.58" r="3.5"/><circle cx="1713.04" cy="979.49" r="3.5"/><circle cx="1716.42" cy="982.42" r="3.5"/><circle cx="1719.8" cy="979.48" r="3.5"/><circle cx="1723.18" cy="982.02" r="3.5"/><circle cx="1726.56" cy="980.16" r="3.5"/><circle cx="1729.94" cy="980.98" r="3.5"/><circle cx="1733.32" cy="980.41" r="3.5"/><circle cx="1736.7" cy="976.43" r="3.5"/><circle cx="1740.08" cy="977.04" r="3.5"/><circle cx="1743.46" cy="979.4" r="3.5"/><circle cx="1746.84" cy="976.06" r="3.5"/><circle cx="1750.22" cy="979.34" r="3.5"/><circle cx="1753.6" cy="978.1" r="3.5"/><circle cx="1756.98" cy="975.39" r="3.5"/><circle cx="1760.36" cy="976.24" r="3.5"/><circle cx="1763.74" cy="978.82" r="3.5"/><circle cx="1767.12" cy="973.86" r="3.5"/><circle cx="1770.5" cy="977.67" r="3.5"/><circle cx="1773.88" cy="977.16" r="3.5"/><circle cx="1777.26" cy="974.19" r="3.5"/><circle cx="1780.64" cy="976.46" r="3.5"/><circle cx="1784.02" cy="976.56" r="3.5"/><circle cx="1787.4" cy="977.66" r="3.5"/><circle cx="1790.78" cy="977.5" r="3.5"/><circle cx="1794.16" cy="974.83" r="3.5"/><circle cx="1797.54" cy="976.55" r="3.5"/><circle cx="1800.92" cy="974.59" r="3.5"/><circle cx="1801.59" cy="975.11" r="3.5"/><circle cx="1803.96" cy="1007.27" r="3.5"/><circle cx="1806.66" cy="1252.42" r="3.5"/><circle cx="1812.75" cy="1297.77" r="3.5"/><circle cx="1816.13" cy="1314.37" r="3.5"/><circle cx="1819.51" cy="1323.76" r="3.5"/><circle cx="1822.89" cy="1333.67" r="3.5"/><circle cx="1826.27" cy="1342.78" r="3.5"/><circle cx="1829.65" cy="1352.09" r="3.5"/><circle cx="1833.03" cy="1365.52" r="3.5"/><circle cx="1836.41" cy="1375.7" r="3.5"/><circle cx="1839.79" cy="1378.22" r="3.5"/><circle cx="1843.17" cy="1384.3" r="3.5"/><circle cx="1846.55" cy="1392.39" r="3.5"/><circle cx="1849.93" cy="1398.34" r="3.5"/><circle cx="1853.31" cy="1401.72" r="3.5"/><circle cx="1856.69" cy="1406.57" r="3.5"/><circle cx="1860.07" cy="1412.95" r="3.5"/><circle cx="1863.45" cy="1412.75" r="3.5"/><circle cx="1866.83" cy="1416.01" r="3.5"/><circle cx="1870.21" cy="1420.16" r="3.5"/><circle cx="1873.59" cy="1423.9" r="3.5"/><circle cx="1876.97" cy="1428.21" r="3.5"/><circle cx="1880.35" cy="1431.46" r="3.5"/><circle cx="1883.73" cy="1430.48" r="3.5"/><circle cx="1887.11" cy="1435.93" r="3.5"/><circle cx="1890.49" cy="1436.36" r="3.5"/><circle cx="1893.87" cy="1440.64" r="3.5"/><circle cx="1897.25" cy="1440.65" r="3.5"/><circle cx="1900.63" cy="1444.01" r="3.5"/><circle cx="1904.01" cy="1447.68" r="3.5"/><circle cx="1907.39" cy="1450.57" r="3.5"/><circle cx="1910.77" cy="1450.36" r="3.5"/><circle cx="1914.15" cy="1454.73" r="3.5"/><circle cx="1917.53" cy="1455.68" r="3.5"/><circle cx="1920.91" cy="1455.91" r="3.5"/><circle cx="1924.29" cy="1456.29" r="3.5"/><circle cx="1927.67" cy="1458.92" r="3.5"/><circle cx="1931.05" cy="1461.95" r="3.5"/><circle cx="1934.43" cy="1460.89" r="3.5"/><circle cx="1937.81" cy="1465.18" r="3.5"/><circle cx="1941.19" cy="1467.02" r="3.5"/><circle cx="1944.57" cy="1467.01" r="3.5"/><circle cx="1947.95" cy="1467.32" r="3.5"/><circle cx="1951.33" cy="1470" r="3.5"/><circle cx="1954.71" cy="1470.57" r="3.5"/><circle cx="1958.09" cy="1470.81" r="3.5"/><circle cx="1961.47" cy="1471.01" r="3.5"/><circle cx="1964.85" cy="1473.92" r="3.5"/><circle cx="1968.23" cy="1474" r="3.5"/><circle cx="1971.61" cy="1472.82" r="3.5"/><circle cx="1974.99" cy="1473.5" r="3.5"/><circle cx="1978.37" cy="1475.92" r="3.5"/><circle cx="1981.75" cy="1476.83" r="3.5"/><circle cx="1985.13" cy="1478.33" r="3.5"/><circle cx="1988.51" cy="1480.93" r="3.5"/><circle cx="1991.89" cy="1481.89" r="3.5"/><circle cx="1995.27" cy="1482.47" r="3.5"/><circle cx="1998.65" cy="1479.22" r="3.5"/><circle cx="2002.03" cy="1480.61" r="3.5"/><circle cx="2005.41" cy="1480.02" r="3.5"/><circle cx="2008.79" cy="1484.5" r="3.5"/><circle cx="2012.17" cy="1482.42" r="3.5"/><circle cx="2015.55" cy="1483.57" r="3.5"/><circle cx="2018.93" cy="1483.04" r="3.5"/><circle cx="2022.31" cy="1485.28" r="3.5"/><circle cx="2025.69" cy="1482.92" r="3.5"/><circle cx="2029.07" cy="1487.33" r="3.5"/><circle cx="2032.45" cy="1485.86" r="3.5"/><circle cx="2035.83" cy="1485.56" r="3.5"/><circle cx="2039.21" cy="1485.38" r="3.5"/><circle cx="2042.59" cy="1486.51" r="3.5"/><circle cx="2045.97" cy="1487.09" r="3.5"/><circle cx="2049.35" cy="1487.15" r="3.5"/><circle cx="2052.73" cy="1487.08" r="3.5"/><circle cx="2056.11" cy="1489.9" r="3.5"/><circle cx="2059.49" cy="1488.94" r="3.5"/><circle cx="2062.87" cy="1488.47" r="3.5"/><circle cx="2066.25" cy="1489.04" r="3.5"/><circle cx="2069.63" cy="1491.39" r="3.5"/><circle cx="2073.01" cy="1490.26" r="3.5"/><circle cx="2076.39" cy="1490.4" r="3.5"/><circle cx="2079.77" cy="1492.06" r="3.5"/><circle cx="2083.15" cy="1492.29" r="3.5"/><circle cx="2086.53" cy="1493.75" r="3.5"/><circle cx="2089.91" cy="1493.35" r="3.5"/><circle cx="2093.29" cy="1493.56" r="3.5"/><circle cx="2096.67" cy="1496.03" r="3.5"/><circle cx="2100.05" cy="1493.9" r="3.5"/><circle cx="2103.43" cy="1492.65" r="3.5"/><circle cx="2106.81" cy="1493.37" r="3.5"/><circle cx="2110.19" cy="1494.24" r="3.5"/><circle cx="2113.57" cy="1495.92" r="3.5"/><circle cx="2116.95" cy="1494.69" r="3.5"/><circle cx="2120.33" cy="1495.58" r="3.5"/><circle cx="2123.71" cy="1496.41" r="3.5"/><circle cx="2127.09" cy="1494.97" r="3.5"/><circle cx="2130.47" cy="1498.39" r="3.5"/><circle cx="2133.85" cy="1495.82" r="3.5"/><circle cx="2137.23" cy="1499.09" r="3.5"/><circle cx="2140.61" cy="1496.92" r="3.5"/><circle cx="2143.65" cy="1497.56" r="3.5"/></g>
</svg>
</body></html>
